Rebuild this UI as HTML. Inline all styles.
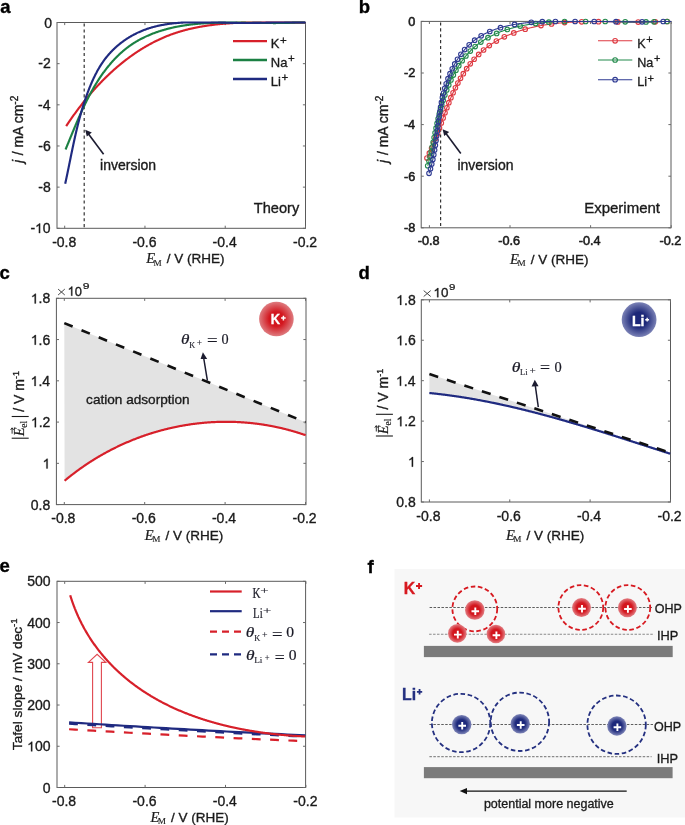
<!DOCTYPE html>
<html><head><meta charset="utf-8"><title>Figure</title>
<style>html,body{margin:0;padding:0;background:#fff;} svg{display:block;will-change:transform;}</style>
</head><body>
<svg width="685" height="825" viewBox="0 0 685 825"><text x="0.34" y="13.20" font-family="'Liberation Sans', sans-serif" font-size="18.5" font-weight="bold" font-style="normal" fill="#000" stroke="#000" stroke-width="0.35">a</text>
<text x="358.71" y="13.20" font-family="'Liberation Sans', sans-serif" font-size="18.5" font-weight="bold" font-style="normal" fill="#000" stroke="#000" stroke-width="0.35">b</text>
<text x="-0.59" y="279.20" font-family="'Liberation Sans', sans-serif" font-size="18.5" font-weight="bold" font-style="normal" fill="#000" stroke="#000" stroke-width="0.35">c</text>
<text x="358.55" y="279.40" font-family="'Liberation Sans', sans-serif" font-size="18.5" font-weight="bold" font-style="normal" fill="#000" stroke="#000" stroke-width="0.35">d</text>
<text x="-0.59" y="572.30" font-family="'Liberation Sans', sans-serif" font-size="18.5" font-weight="bold" font-style="normal" fill="#000" stroke="#000" stroke-width="0.35">e</text>
<text x="367.49" y="573.00" font-family="'Liberation Sans', sans-serif" font-size="18.5" font-weight="bold" font-style="normal" fill="#000" stroke="#000" stroke-width="0.35">f</text>
<rect x="57" y="22.5" width="248.5" height="205.8" fill="none" stroke="#5a5a5a" stroke-width="1"/>
<line x1="64.7" y1="228.3" x2="64.7" y2="225.70000000000002" stroke="#6a6a6a" stroke-width="1"/>
<line x1="64.7" y1="22.5" x2="64.7" y2="25.1" stroke="#6a6a6a" stroke-width="1"/>
<line x1="144.96000000000004" y1="228.3" x2="144.96000000000004" y2="225.70000000000002" stroke="#6a6a6a" stroke-width="1"/>
<line x1="144.96000000000004" y1="22.5" x2="144.96000000000004" y2="25.1" stroke="#6a6a6a" stroke-width="1"/>
<line x1="225.22000000000003" y1="228.3" x2="225.22000000000003" y2="225.70000000000002" stroke="#6a6a6a" stroke-width="1"/>
<line x1="225.22000000000003" y1="22.5" x2="225.22000000000003" y2="25.1" stroke="#6a6a6a" stroke-width="1"/>
<line x1="305.48" y1="228.3" x2="305.48" y2="225.70000000000002" stroke="#6a6a6a" stroke-width="1"/>
<line x1="305.48" y1="22.5" x2="305.48" y2="25.1" stroke="#6a6a6a" stroke-width="1"/>
<line x1="57" y1="22.5" x2="59.6" y2="22.5" stroke="#6a6a6a" stroke-width="1"/>
<line x1="305.5" y1="22.5" x2="302.9" y2="22.5" stroke="#6a6a6a" stroke-width="1"/>
<line x1="57" y1="63.66" x2="59.6" y2="63.66" stroke="#6a6a6a" stroke-width="1"/>
<line x1="305.5" y1="63.66" x2="302.9" y2="63.66" stroke="#6a6a6a" stroke-width="1"/>
<line x1="57" y1="104.82" x2="59.6" y2="104.82" stroke="#6a6a6a" stroke-width="1"/>
<line x1="305.5" y1="104.82" x2="302.9" y2="104.82" stroke="#6a6a6a" stroke-width="1"/>
<line x1="57" y1="145.98" x2="59.6" y2="145.98" stroke="#6a6a6a" stroke-width="1"/>
<line x1="305.5" y1="145.98" x2="302.9" y2="145.98" stroke="#6a6a6a" stroke-width="1"/>
<line x1="57" y1="187.14" x2="59.6" y2="187.14" stroke="#6a6a6a" stroke-width="1"/>
<line x1="305.5" y1="187.14" x2="302.9" y2="187.14" stroke="#6a6a6a" stroke-width="1"/>
<line x1="57" y1="228.29999999999998" x2="59.6" y2="228.29999999999998" stroke="#6a6a6a" stroke-width="1"/>
<line x1="305.5" y1="228.29999999999998" x2="302.9" y2="228.29999999999998" stroke="#6a6a6a" stroke-width="1"/>
<text x="44.15" y="27.60" font-family="'Liberation Sans', sans-serif" font-size="14" font-weight="normal" font-style="normal" fill="#1a1a1a" stroke="#1a1a1a" stroke-width="0.35">0</text>
<text x="38.35" y="68.46" font-family="'Liberation Sans', sans-serif" font-size="14" font-weight="normal" font-style="normal" fill="#1a1a1a" stroke="#1a1a1a" stroke-width="0.35">-2</text>
<text x="38.04" y="109.62" font-family="'Liberation Sans', sans-serif" font-size="14" font-weight="normal" font-style="normal" fill="#1a1a1a" stroke="#1a1a1a" stroke-width="0.35">-4</text>
<text x="38.22" y="150.78" font-family="'Liberation Sans', sans-serif" font-size="14" font-weight="normal" font-style="normal" fill="#1a1a1a" stroke="#1a1a1a" stroke-width="0.35">-6</text>
<text x="38.22" y="191.94" font-family="'Liberation Sans', sans-serif" font-size="14" font-weight="normal" font-style="normal" fill="#1a1a1a" stroke="#1a1a1a" stroke-width="0.35">-8</text>
<g transform="translate(30.41,233.10)"><text x="0.00" y="0" font-family="'Liberation Sans', sans-serif" font-size="14" fill="#1a1a1a" stroke="#1a1a1a" stroke-width="0.35">-</text><path transform="translate(4.66,0) scale(0.00684,-0.00684)" d="M740,0 L560,0 L560,1130 C520,1090 460,1050 390,1010 C320,970 260,940 210,920 L210,1090 C300,1130 380,1180 450,1240 C520,1300 570,1360 600,1409 L740,1409 Z" fill="#1a1a1a" stroke="#1a1a1a" stroke-width="43.9"/><text x="12.45" y="0" font-family="'Liberation Sans', sans-serif" font-size="14" fill="#1a1a1a" stroke="#1a1a1a" stroke-width="0.35">0</text></g>
<text x="52.14" y="246.50" font-family="'Liberation Sans', sans-serif" font-size="14" font-weight="normal" font-style="normal" fill="#1a1a1a" stroke="#1a1a1a" stroke-width="0.35">-0.8</text>
<text x="132.40" y="246.50" font-family="'Liberation Sans', sans-serif" font-size="14" font-weight="normal" font-style="normal" fill="#1a1a1a" stroke="#1a1a1a" stroke-width="0.35">-0.6</text>
<text x="212.57" y="246.50" font-family="'Liberation Sans', sans-serif" font-size="14" font-weight="normal" font-style="normal" fill="#1a1a1a" stroke="#1a1a1a" stroke-width="0.35">-0.4</text>
<text x="292.98" y="246.50" font-family="'Liberation Sans', sans-serif" font-size="14" font-weight="normal" font-style="normal" fill="#1a1a1a" stroke="#1a1a1a" stroke-width="0.35">-0.2</text>
<text x="146.19" y="263.40" font-family="'Liberation Serif', serif" font-size="14.5" font-weight="normal" font-style="italic" fill="#1a1a1a" stroke="#1a1a1a" stroke-width="0.2">E</text>
<text x="153.56" y="265.50" font-family="'Liberation Serif', serif" font-size="9.2" font-weight="normal" font-style="normal" fill="#1a1a1a" stroke="#1a1a1a" stroke-width="0.13142857142857142">M</text>
<text x="166.80" y="263.40" font-family="'Liberation Sans', sans-serif" font-size="13.5" font-weight="normal" font-style="normal" fill="#1a1a1a" stroke="#1a1a1a" stroke-width="0.33749999999999997">/ V (RHE)</text>
<text transform="translate(23.4,129.4) rotate(-90)" font-family="'Liberation Sans', sans-serif" font-size="14" text-anchor="middle" fill="#1a1a1a" stroke="#1a1a1a" stroke-width="0.35"><tspan font-style="italic">j</tspan><tspan dx="0.8"> / mA cm</tspan><tspan font-size="10" dy="-5">-2</tspan></text>
<line x1="84.2" y1="23.5" x2="84.2" y2="228.3" stroke="#333" stroke-width="1.2" stroke-dasharray="3.1,2.8"/>
<path d="M66.17,126.15 L66.50,125.65 L66.84,125.15 L67.17,124.65 L67.50,124.15 L67.84,123.64 L68.17,123.14 L68.51,122.64 L68.84,122.15 L69.18,121.65 L69.52,121.15 L69.86,120.65 L70.20,120.16 L70.54,119.66 L70.89,119.17 L71.23,118.67 L71.57,118.18 L71.92,117.68 L72.27,117.19 L72.61,116.70 L72.96,116.21 L73.31,115.72 L73.66,115.23 L74.01,114.74 L74.36,114.25 L74.71,113.76 L75.07,113.27 L75.42,112.79 L75.78,112.30 L76.13,111.81 L76.49,111.33 L76.85,110.84 L77.21,110.36 L77.57,109.88 L77.93,109.40 L78.29,108.91 L78.65,108.43 L79.02,107.95 L79.38,107.47 L79.75,107.00 L80.11,106.52 L80.48,106.04 L80.85,105.56 L81.22,105.09 L81.59,104.61 L81.96,104.14 L82.33,103.67 L82.71,103.19 L83.08,102.72 L83.45,102.25 L83.83,101.78 L84.21,101.31 L84.59,100.84 L84.96,100.37 L85.34,99.91 L85.72,99.44 L86.11,98.97 L86.49,98.51 L86.87,98.04 L87.26,97.58 L87.64,97.12 L88.03,96.66 L88.42,96.20 L88.80,95.74 L89.19,95.28 L89.58,94.82 L89.98,94.36 L90.37,93.90 L90.76,93.45 L91.15,92.99 L91.55,92.54 L91.95,92.08 L92.34,91.63 L92.74,91.18 L93.14,90.73 L93.54,90.28 L93.94,89.83 L94.34,89.38 L94.75,88.93 L95.15,88.49 L95.56,88.04 L95.96,87.60 L96.37,87.15 L96.78,86.71 L97.19,86.27 L97.60,85.83 L98.01,85.39 L98.42,84.95 L98.83,84.51 L99.25,84.07 L99.66,83.64 L100.08,83.20 L100.50,82.77 L100.91,82.33 L101.33,81.90 L101.75,81.47 L102.17,81.04 L102.60,80.61 L103.02,80.18 L103.44,79.75 L103.87,79.33 L104.30,78.90 L104.72,78.48 L105.15,78.06 L105.58,77.63 L106.01,77.21 L106.44,76.79 L106.88,76.37 L107.31,75.96 L107.74,75.54 L108.18,75.12 L108.62,74.71 L109.05,74.29 L109.49,73.88 L109.93,73.47 L110.37,73.06 L110.82,72.65 L111.26,72.24 L111.70,71.84 L112.15,71.43 L112.59,71.03 L113.04,70.62 L113.49,70.22 L113.94,69.82 L114.39,69.42 L114.84,69.02 L115.29,68.63 L115.75,68.23 L116.20,67.83 L116.66,67.44 L117.11,67.05 L117.57,66.66 L118.03,66.27 L118.49,65.88 L118.95,65.49 L119.41,65.11 L119.88,64.72 L120.34,64.34 L120.81,63.96 L121.27,63.57 L121.74,63.20 L122.21,62.82 L122.68,62.44 L123.15,62.06 L123.62,61.69 L124.10,61.32 L124.57,60.95 L125.04,60.58 L125.52,60.21 L126.00,59.84 L126.48,59.47 L126.96,59.11 L127.44,58.75 L127.92,58.39 L128.40,58.03 L128.88,57.67 L129.37,57.31 L129.85,56.95 L130.34,56.60 L130.83,56.25 L131.32,55.90 L131.81,55.55 L132.30,55.20 L132.79,54.85 L133.29,54.51 L133.78,54.16 L134.28,53.82 L134.77,53.48 L135.27,53.14 L135.77,52.80 L136.27,52.47 L136.77,52.13 L137.27,51.80 L137.78,51.47 L138.28,51.14 L138.79,50.81 L139.29,50.49 L139.80,50.16 L140.31,49.84 L140.82,49.52 L141.33,49.20 L141.84,48.88 L142.35,48.57 L142.87,48.25 L143.38,47.94 L143.90,47.63 L144.41,47.32 L144.93,47.01 L145.45,46.71 L145.97,46.41 L146.49,46.10 L147.01,45.80 L147.54,45.51 L148.06,45.21 L148.59,44.92 L149.11,44.62 L149.64,44.33 L150.17,44.04 L150.70,43.76 L151.23,43.47 L151.76,43.19 L152.29,42.91 L152.83,42.63 L153.36,42.35 L153.90,42.08 L154.43,41.80 L154.97,41.53 L155.51,41.26 L156.05,40.99 L156.59,40.73 L157.13,40.47 L157.67,40.20 L158.22,39.95 L158.76,39.69 L159.31,39.43 L159.85,39.18 L160.40,38.93 L160.95,38.68 L161.50,38.43 L162.05,38.19 L162.60,37.95 L163.15,37.71 L163.71,37.47 L164.26,37.23 L164.81,37.00 L165.37,36.76 L165.93,36.53 L166.48,36.31 L167.04,36.08 L167.60,35.86 L168.16,35.64 L168.72,35.42 L169.29,35.20 L169.85,34.99 L170.41,34.78 L170.98,34.57 L171.54,34.36 L172.11,34.15 L172.67,33.95 L173.24,33.75 L173.81,33.55 L174.38,33.36 L174.95,33.16 L175.52,32.97 L176.09,32.78 L176.67,32.60 L177.24,32.41 L177.81,32.23 L178.39,32.05 L178.96,31.87 L179.54,31.70 L180.12,31.52 L180.69,31.35 L181.27,31.18 L181.85,31.01 L182.43,30.85 L183.01,30.69 L183.59,30.52 L184.17,30.37 L184.75,30.21 L185.33,30.05 L185.92,29.90 L186.50,29.75 L187.08,29.60 L187.67,29.46 L188.25,29.31 L188.84,29.17 L189.42,29.03 L190.01,28.89 L190.59,28.75 L191.18,28.62 L191.77,28.48 L192.36,28.35 L192.94,28.22 L193.53,28.09 L194.12,27.97 L194.71,27.85 L195.30,27.72 L195.89,27.60 L196.48,27.48 L197.07,27.37 L197.66,27.25 L198.25,27.14 L198.85,27.03 L199.44,26.92 L200.03,26.81 L200.62,26.70 L201.22,26.60 L201.81,26.50 L202.40,26.39 L203.00,26.29 L203.59,26.20 L204.18,26.10 L204.78,26.01 L205.37,25.91 L205.97,25.82 L206.56,25.73 L207.16,25.64 L207.76,25.55 L208.35,25.47 L208.95,25.38 L209.54,25.30 L210.14,25.22 L210.74,25.14 L211.34,25.06 L211.93,24.98 L212.53,24.91 L213.13,24.83 L213.73,24.76 L214.32,24.69 L214.92,24.62 L215.52,24.55 L216.12,24.48 L216.72,24.42 L217.32,24.35 L217.91,24.29 L218.51,24.23 L219.11,24.17 L219.71,24.11 L220.31,24.05 L220.91,23.99 L221.51,23.94 L222.11,23.88 L222.71,23.83 L223.31,23.78 L223.91,23.72 L224.51,23.67 L225.11,23.63 L225.71,23.58 L226.31,23.53 L226.91,23.49 L227.51,23.44 L228.11,23.40 L228.71,23.36 L229.31,23.31 L229.91,23.27 L230.52,23.24 L231.12,23.20 L231.72,23.16 L232.32,23.12 L232.92,23.09 L233.52,23.05 L234.12,23.02 L234.72,22.99 L235.32,22.96 L235.93,22.93 L236.53,22.90 L237.13,22.87 L237.73,22.84 L238.33,22.82 L238.93,22.79 L239.54,22.76 L240.14,22.74 L240.74,22.72 L241.34,22.69 L241.94,22.67 L242.54,22.65 L243.15,22.63 L243.75,22.61 L244.35,22.59 L244.95,22.58 L245.55,22.56 L246.16,22.54 L246.76,22.53 L247.36,22.51 L247.96,22.50 L248.56,22.50 L249.17,22.50 L249.77,22.50 L250.37,22.50 L250.97,22.50 L251.58,22.50 L252.18,22.50 L252.78,22.50 L253.38,22.50 L253.98,22.50 L254.59,22.50 L255.19,22.50 L255.79,22.50 L256.39,22.50 L256.99,22.50 L257.60,22.50 L258.20,22.50 L258.80,22.50 L259.40,22.50 L260.01,22.50 L260.61,22.50 L261.21,22.50 L261.81,22.50 L262.41,22.50 L263.02,22.50 L263.62,22.50 L264.22,22.50 L264.82,22.50 L265.43,22.50 L266.03,22.50 L266.63,22.50 L267.23,22.50 L267.83,22.50 L268.44,22.50 L269.04,22.50 L269.64,22.50 L270.24,22.50 L270.85,22.50 L271.45,22.50 L272.05,22.50 L272.65,22.50 L273.25,22.50 L273.86,22.50 L274.46,22.50 L275.06,22.50 L275.66,22.50 L276.26,22.50 L276.87,22.50 L277.47,22.50 L278.07,22.50 L278.67,22.50 L279.28,22.50 L279.88,22.50 L280.48,22.50 L281.08,22.50 L281.68,22.50 L282.29,22.50 L282.89,22.50 L283.49,22.50 L284.09,22.50 L284.70,22.50 L285.30,22.51 L285.90,22.51 L286.50,22.52 L287.10,22.53 L287.71,22.53 L288.31,22.54 L288.91,22.55 L289.51,22.55 L290.11,22.56 L290.72,22.57 L291.32,22.57 L291.92,22.58 L292.52,22.59 L293.13,22.59 L293.73,22.60 L294.33,22.60 L294.93,22.61 L295.53,22.61 L296.14,22.62 L296.74,22.62 L297.34,22.63 L297.94,22.63 L298.55,22.63 L299.15,22.64 L299.75,22.64 L300.35,22.64 L300.95,22.65 L301.56,22.65 L302.16,22.65 L302.76,22.65 L303.36,22.65 L303.96,22.65 L304.57,22.65 L305.17,22.65" fill="none" stroke="#d7202a" stroke-width="2.15" stroke-linecap="butt" stroke-linejoin="round"/>
<path d="M65.56,149.47 L65.79,148.91 L66.02,148.36 L66.25,147.80 L66.48,147.25 L66.71,146.69 L66.94,146.13 L67.17,145.58 L67.40,145.02 L67.63,144.46 L67.86,143.91 L68.09,143.35 L68.31,142.79 L68.54,142.24 L68.77,141.68 L69.00,141.12 L69.23,140.57 L69.45,140.01 L69.68,139.45 L69.91,138.89 L70.14,138.34 L70.37,137.78 L70.59,137.22 L70.82,136.67 L71.05,136.11 L71.28,135.55 L71.51,135.00 L71.74,134.44 L71.97,133.88 L72.19,133.33 L72.42,132.77 L72.65,132.21 L72.88,131.66 L73.11,131.10 L73.34,130.55 L73.57,129.99 L73.80,129.43 L74.03,128.88 L74.27,128.32 L74.50,127.77 L74.73,127.21 L74.96,126.66 L75.20,126.10 L75.43,125.55 L75.66,124.99 L75.90,124.44 L76.13,123.88 L76.37,123.33 L76.60,122.78 L76.84,122.22 L77.07,121.67 L77.31,121.12 L77.55,120.56 L77.79,120.01 L78.03,119.46 L78.27,118.91 L78.51,118.35 L78.75,117.80 L78.99,117.25 L79.23,116.70 L79.47,116.15 L79.72,115.60 L79.96,115.05 L80.21,114.50 L80.45,113.95 L80.70,113.40 L80.94,112.85 L81.19,112.31 L81.44,111.76 L81.69,111.21 L81.94,110.66 L82.19,110.12 L82.45,109.57 L82.70,109.02 L82.95,108.48 L83.21,107.93 L83.46,107.39 L83.72,106.84 L83.98,106.30 L84.24,105.76 L84.50,105.21 L84.76,104.67 L85.02,104.13 L85.28,103.59 L85.55,103.05 L85.81,102.51 L86.08,101.97 L86.34,101.43 L86.61,100.89 L86.88,100.35 L87.15,99.81 L87.42,99.28 L87.70,98.74 L87.97,98.20 L88.25,97.67 L88.52,97.13 L88.80,96.60 L89.08,96.07 L89.36,95.54 L89.64,95.00 L89.92,94.47 L90.21,93.94 L90.49,93.41 L90.78,92.88 L91.07,92.35 L91.36,91.83 L91.65,91.30 L91.94,90.77 L92.24,90.25 L92.53,89.73 L92.83,89.20 L93.13,88.68 L93.43,88.16 L93.73,87.64 L94.03,87.12 L94.33,86.60 L94.64,86.08 L94.95,85.56 L95.26,85.04 L95.57,84.53 L95.88,84.01 L96.19,83.50 L96.51,82.99 L96.83,82.48 L97.14,81.97 L97.46,81.46 L97.79,80.95 L98.11,80.44 L98.44,79.94 L98.76,79.43 L99.09,78.93 L99.42,78.42 L99.76,77.92 L100.09,77.42 L100.43,76.92 L100.76,76.42 L101.10,75.93 L101.45,75.43 L101.79,74.94 L102.13,74.45 L102.48,73.95 L102.83,73.46 L103.18,72.97 L103.53,72.49 L103.89,72.00 L104.25,71.52 L104.60,71.03 L104.97,70.55 L105.33,70.07 L105.69,69.59 L106.06,69.12 L106.43,68.64 L106.80,68.17 L107.17,67.69 L107.55,67.22 L107.92,66.75 L108.30,66.29 L108.68,65.82 L109.07,65.36 L109.45,64.89 L109.84,64.43 L110.23,63.97 L110.62,63.52 L111.01,63.06 L111.41,62.61 L111.80,62.16 L112.20,61.71 L112.61,61.26 L113.01,60.81 L113.42,60.37 L113.83,59.93 L114.24,59.49 L114.65,59.05 L115.06,58.61 L115.48,58.18 L115.90,57.75 L116.32,57.32 L116.75,56.89 L117.17,56.47 L117.60,56.04 L118.03,55.62 L118.47,55.21 L118.90,54.79 L119.34,54.38 L119.78,53.97 L120.22,53.56 L120.67,53.15 L121.11,52.75 L121.56,52.35 L122.01,51.95 L122.47,51.56 L122.92,51.16 L123.38,50.77 L123.84,50.39 L124.30,50.00 L124.77,49.62 L125.24,49.24 L125.71,48.87 L126.18,48.49 L126.65,48.12 L127.13,47.75 L127.61,47.39 L128.09,47.03 L128.57,46.67 L129.06,46.32 L129.55,45.97 L130.04,45.62 L130.53,45.27 L131.03,44.93 L131.53,44.59 L132.03,44.26 L132.53,43.92 L133.03,43.59 L133.54,43.27 L134.04,42.95 L134.55,42.63 L135.07,42.31 L135.58,42.00 L136.10,41.69 L136.61,41.38 L137.13,41.08 L137.65,40.78 L138.18,40.48 L138.70,40.18 L139.23,39.89 L139.76,39.60 L140.29,39.32 L140.82,39.04 L141.35,38.76 L141.89,38.48 L142.42,38.21 L142.96,37.94 L143.50,37.67 L144.04,37.41 L144.58,37.15 L145.13,36.89 L145.67,36.63 L146.22,36.38 L146.77,36.13 L147.32,35.88 L147.87,35.64 L148.42,35.40 L148.97,35.16 L149.52,34.93 L150.08,34.70 L150.64,34.47 L151.19,34.24 L151.75,34.02 L152.31,33.79 L152.87,33.58 L153.43,33.36 L154.00,33.15 L154.56,32.94 L155.13,32.73 L155.69,32.52 L156.26,32.32 L156.83,32.12 L157.39,31.93 L157.96,31.73 L158.53,31.54 L159.11,31.35 L159.68,31.16 L160.25,30.98 L160.82,30.80 L161.40,30.62 L161.97,30.44 L162.55,30.27 L163.13,30.10 L163.70,29.93 L164.28,29.76 L164.86,29.60 L165.44,29.44 L166.02,29.28 L166.60,29.12 L167.18,28.96 L167.77,28.81 L168.35,28.66 L168.93,28.51 L169.52,28.37 L170.10,28.23 L170.69,28.09 L171.27,27.95 L171.86,27.81 L172.45,27.68 L173.03,27.55 L173.62,27.42 L174.21,27.29 L174.80,27.16 L175.39,27.04 L175.98,26.92 L176.57,26.80 L177.16,26.69 L177.75,26.57 L178.34,26.46 L178.93,26.35 L179.52,26.24 L180.11,26.13 L180.71,26.03 L181.30,25.93 L181.89,25.83 L182.49,25.73 L183.08,25.63 L183.68,25.54 L184.27,25.44 L184.86,25.35 L185.46,25.26 L186.06,25.18 L186.65,25.09 L187.25,25.01 L187.84,24.93 L188.44,24.85 L189.04,24.77 L189.63,24.69 L190.23,24.62 L190.83,24.54 L191.42,24.47 L192.02,24.40 L192.62,24.33 L193.22,24.27 L193.82,24.20 L194.42,24.14 L195.01,24.08 L195.61,24.02 L196.21,23.96 L196.81,23.90 L197.41,23.84 L198.01,23.79 L198.61,23.74 L199.21,23.69 L199.81,23.64 L200.41,23.59 L201.01,23.54 L201.61,23.49 L202.21,23.45 L202.81,23.41 L203.41,23.36 L204.01,23.32 L204.61,23.28 L205.21,23.25 L205.81,23.21 L206.41,23.17 L207.01,23.14 L207.61,23.10 L208.21,23.07 L208.82,23.04 L209.42,23.01 L210.02,22.98 L210.62,22.96 L211.22,22.93 L211.82,22.90 L212.42,22.88 L213.02,22.86 L213.62,22.83 L214.23,22.81 L214.83,22.79 L215.43,22.77 L216.03,22.75 L216.63,22.74 L217.23,22.72 L217.84,22.70 L218.44,22.69 L219.04,22.68 L219.64,22.66 L220.24,22.65 L220.84,22.64 L221.45,22.63 L222.05,22.62 L222.65,22.61 L223.25,22.60 L223.85,22.59 L224.45,22.59 L225.06,22.58 L225.66,22.58 L226.26,22.57 L226.86,22.57 L227.46,22.56 L228.06,22.56 L228.67,22.56 L229.27,22.56 L229.87,22.56 L230.47,22.56 L231.07,22.56 L231.68,22.56 L232.28,22.56 L232.88,22.56 L233.48,22.56 L234.08,22.57 L234.68,22.57 L235.29,22.57 L235.89,22.58 L236.49,22.58 L237.09,22.59 L237.69,22.59 L238.30,22.60 L238.90,22.60 L239.50,22.61 L240.10,22.62 L240.70,22.62 L241.30,22.63 L241.91,22.64 L242.51,22.65 L243.11,22.66 L243.71,22.66 L244.31,22.67 L244.91,22.68 L245.52,22.69 L246.12,22.70 L246.72,22.71 L247.32,22.72 L247.92,22.73 L248.52,22.74 L249.13,22.75 L249.73,22.76 L250.33,22.77 L250.93,22.78 L251.53,22.79 L252.13,22.80 L252.74,22.81 L253.34,22.82 L253.94,22.83 L254.54,22.84 L255.14,22.85 L255.75,22.86 L256.35,22.87 L256.95,22.88 L257.55,22.89 L258.15,22.90 L258.75,22.91 L259.36,22.92 L259.96,22.93 L260.56,22.93 L261.16,22.94 L261.76,22.95 L262.36,22.96 L262.97,22.97 L263.57,22.98 L264.17,22.98 L264.77,22.99 L265.37,23.00 L265.97,23.00 L266.58,23.01 L267.18,23.01 L267.78,23.02 L268.38,23.02 L268.98,23.03 L269.59,23.03 L270.19,23.04 L270.79,23.04 L271.39,23.04 L271.99,23.04 L272.59,23.05 L273.20,23.05 L273.80,23.05 L274.40,23.05 L275.00,23.05 L275.60,23.05 L276.20,23.04 L276.81,23.04 L277.41,23.04 L278.01,23.03 L278.61,23.03 L279.21,23.02 L279.82,23.02 L280.42,23.01 L281.02,23.00 L281.62,23.00 L282.22,22.99 L282.82,22.98 L283.43,22.97 L284.03,22.95 L284.63,22.94 L285.23,22.93 L285.83,22.91 L286.43,22.90 L287.04,22.88 L287.64,22.87 L288.24,22.85 L288.84,22.83 L289.44,22.81 L290.04,22.79 L290.64,22.76 L291.25,22.74 L291.85,22.72 L292.45,22.69 L293.05,22.66 L293.65,22.64 L294.25,22.61 L294.85,22.58 L295.45,22.54 L296.05,22.51 L296.66,22.50 L297.26,22.50 L297.86,22.50 L298.46,22.50 L299.06,22.50 L299.67,22.50 L300.27,22.50 L300.87,22.50 L301.47,22.50 L302.07,22.50 L302.67,22.50 L303.28,22.50 L303.88,22.50 L304.48,22.50 L305.08,22.50" fill="none" stroke="#1b8043" stroke-width="2.15" stroke-linecap="butt" stroke-linejoin="round"/>
<path d="M65.17,183.85 L65.30,183.26 L65.43,182.68 L65.56,182.09 L65.69,181.50 L65.82,180.91 L65.94,180.32 L66.07,179.73 L66.19,179.15 L66.32,178.56 L66.45,177.97 L66.57,177.38 L66.69,176.79 L66.82,176.20 L66.94,175.61 L67.07,175.02 L67.19,174.43 L67.31,173.85 L67.43,173.26 L67.56,172.67 L67.68,172.08 L67.80,171.49 L67.92,170.90 L68.04,170.31 L68.16,169.72 L68.29,169.13 L68.41,168.54 L68.53,167.95 L68.65,167.36 L68.77,166.77 L68.89,166.18 L69.01,165.59 L69.13,165.00 L69.25,164.41 L69.37,163.82 L69.49,163.23 L69.61,162.64 L69.73,162.05 L69.85,161.46 L69.97,160.87 L70.09,160.28 L70.21,159.69 L70.33,159.10 L70.45,158.51 L70.57,157.92 L70.69,157.33 L70.81,156.74 L70.93,156.15 L71.05,155.56 L71.17,154.98 L71.29,154.39 L71.41,153.80 L71.53,153.21 L71.65,152.62 L71.78,152.03 L71.90,151.44 L72.02,150.85 L72.14,150.26 L72.26,149.67 L72.39,149.08 L72.51,148.49 L72.63,147.90 L72.76,147.31 L72.88,146.72 L73.01,146.14 L73.13,145.55 L73.26,144.96 L73.38,144.37 L73.51,143.78 L73.63,143.19 L73.76,142.60 L73.89,142.02 L74.01,141.43 L74.14,140.84 L74.27,140.25 L74.40,139.66 L74.53,139.08 L74.66,138.49 L74.79,137.90 L74.92,137.31 L75.05,136.73 L75.18,136.14 L75.32,135.55 L75.45,134.96 L75.58,134.38 L75.72,133.79 L75.85,133.20 L75.99,132.62 L76.13,132.03 L76.26,131.45 L76.40,130.86 L76.54,130.27 L76.68,129.69 L76.82,129.10 L76.96,128.52 L77.10,127.93 L77.24,127.35 L77.39,126.76 L77.53,126.18 L77.67,125.59 L77.82,125.01 L77.96,124.43 L78.11,123.84 L78.26,123.26 L78.41,122.68 L78.56,122.09 L78.71,121.51 L78.86,120.93 L79.01,120.34 L79.16,119.76 L79.32,119.18 L79.47,118.60 L79.63,118.02 L79.78,117.44 L79.94,116.86 L80.10,116.27 L80.26,115.69 L80.42,115.11 L80.58,114.53 L80.74,113.95 L80.91,113.38 L81.07,112.80 L81.24,112.22 L81.41,111.64 L81.57,111.06 L81.74,110.48 L81.91,109.91 L82.08,109.33 L82.26,108.75 L82.43,108.18 L82.61,107.60 L82.78,107.03 L82.96,106.45 L83.14,105.88 L83.32,105.30 L83.50,104.73 L83.68,104.15 L83.86,103.58 L84.05,103.01 L84.23,102.43 L84.42,101.86 L84.61,101.29 L84.80,100.72 L84.99,100.15 L85.18,99.58 L85.38,99.01 L85.57,98.44 L85.77,97.87 L85.96,97.30 L86.16,96.73 L86.36,96.17 L86.57,95.60 L86.77,95.03 L86.97,94.47 L87.18,93.90 L87.39,93.34 L87.60,92.77 L87.81,92.21 L88.02,91.65 L88.23,91.08 L88.45,90.52 L88.67,89.96 L88.88,89.40 L89.10,88.84 L89.33,88.28 L89.55,87.72 L89.77,87.16 L90.00,86.60 L90.23,86.05 L90.46,85.49 L90.69,84.93 L90.92,84.38 L91.15,83.82 L91.39,83.27 L91.63,82.72 L91.87,82.17 L92.11,81.61 L92.36,81.06 L92.60,80.52 L92.85,79.97 L93.10,79.42 L93.35,78.87 L93.61,78.33 L93.87,77.78 L94.13,77.24 L94.39,76.70 L94.65,76.16 L94.92,75.62 L95.19,75.08 L95.46,74.54 L95.73,74.01 L96.01,73.47 L96.28,72.94 L96.57,72.41 L96.85,71.87 L97.14,71.34 L97.42,70.82 L97.72,70.29 L98.01,69.77 L98.31,69.24 L98.61,68.72 L98.91,68.20 L99.22,67.68 L99.53,67.17 L99.84,66.65 L100.15,66.14 L100.47,65.63 L100.79,65.12 L101.12,64.61 L101.44,64.11 L101.77,63.60 L102.11,63.10 L102.44,62.60 L102.79,62.11 L103.13,61.61 L103.48,61.12 L103.83,60.63 L104.18,60.14 L104.54,59.66 L104.90,59.18 L105.26,58.70 L105.63,58.22 L106.00,57.75 L106.37,57.28 L106.75,56.81 L107.13,56.34 L107.52,55.88 L107.90,55.42 L108.30,54.96 L108.69,54.50 L109.09,54.05 L109.49,53.60 L109.89,53.16 L110.30,52.71 L110.71,52.27 L111.12,51.83 L111.54,51.40 L111.96,50.97 L112.38,50.54 L112.80,50.11 L113.23,49.69 L113.66,49.27 L114.10,48.85 L114.53,48.44 L114.97,48.03 L115.42,47.62 L115.86,47.21 L116.31,46.81 L116.76,46.41 L117.21,46.02 L117.67,45.63 L118.13,45.24 L118.59,44.85 L119.05,44.47 L119.52,44.09 L119.99,43.71 L120.46,43.34 L120.94,42.97 L121.42,42.60 L121.90,42.24 L122.38,41.88 L122.86,41.52 L123.35,41.17 L123.84,40.82 L124.33,40.47 L124.82,40.12 L125.32,39.78 L125.82,39.45 L126.32,39.11 L126.82,38.78 L127.33,38.46 L127.84,38.13 L128.35,37.81 L128.86,37.50 L129.37,37.18 L129.89,36.87 L130.40,36.57 L130.93,36.26 L131.45,35.96 L131.97,35.67 L132.50,35.38 L133.03,35.09 L133.56,34.80 L134.09,34.52 L134.62,34.24 L135.16,33.97 L135.69,33.69 L136.23,33.43 L136.77,33.16 L137.32,32.90 L137.86,32.64 L138.41,32.39 L138.95,32.14 L139.50,31.90 L140.05,31.65 L140.61,31.41 L141.16,31.18 L141.72,30.95 L142.27,30.72 L142.83,30.50 L143.39,30.27 L143.95,30.06 L144.52,29.84 L145.08,29.64 L145.65,29.43 L146.21,29.23 L146.78,29.03 L147.35,28.83 L147.92,28.64 L148.49,28.46 L149.07,28.27 L149.64,28.09 L150.22,27.91 L150.79,27.74 L151.37,27.57 L151.95,27.40 L152.53,27.24 L153.11,27.08 L153.69,26.92 L154.27,26.77 L154.85,26.62 L155.44,26.47 L156.02,26.32 L156.61,26.18 L157.19,26.05 L157.78,25.91 L158.36,25.78 L158.95,25.65 L159.54,25.52 L160.13,25.40 L160.72,25.28 L161.31,25.16 L161.90,25.05 L162.49,24.94 L163.08,24.83 L163.68,24.72 L164.27,24.62 L164.86,24.52 L165.46,24.42 L166.05,24.32 L166.65,24.23 L167.24,24.14 L167.84,24.05 L168.43,23.97 L169.03,23.88 L169.63,23.80 L170.22,23.72 L170.82,23.65 L171.42,23.58 L172.01,23.50 L172.61,23.43 L173.21,23.37 L173.81,23.30 L174.41,23.24 L175.01,23.18 L175.61,23.12 L176.20,23.07 L176.80,23.01 L177.40,22.96 L178.00,22.91 L178.60,22.86 L179.20,22.81 L179.80,22.77 L180.40,22.73 L181.00,22.68 L181.60,22.64 L182.21,22.61 L182.81,22.57 L183.41,22.54 L184.01,22.50 L184.61,22.50 L185.21,22.50 L185.81,22.50 L186.42,22.50 L187.02,22.50 L187.62,22.50 L188.22,22.50 L188.82,22.50 L189.43,22.50 L190.03,22.50 L190.63,22.50 L191.23,22.50 L191.83,22.50 L192.43,22.50 L193.04,22.50 L193.64,22.50 L194.24,22.50 L194.84,22.50 L195.44,22.50 L196.05,22.50 L196.65,22.50 L197.25,22.50 L197.85,22.50 L198.45,22.50 L199.06,22.50 L199.66,22.50 L200.26,22.50 L200.86,22.50 L201.46,22.50 L202.07,22.50 L202.67,22.50 L203.27,22.50 L203.87,22.50 L204.47,22.50 L205.07,22.50 L205.68,22.50 L206.28,22.50 L206.88,22.50 L207.48,22.50 L208.08,22.50 L208.69,22.50 L209.29,22.50 L209.89,22.50 L210.49,22.50 L211.09,22.50 L211.70,22.50 L212.30,22.50 L212.90,22.50 L213.50,22.50 L214.10,22.50 L214.70,22.50 L215.31,22.50 L215.91,22.50 L216.51,22.50 L217.11,22.50 L217.71,22.50 L218.32,22.50 L218.92,22.50 L219.52,22.51 L220.12,22.53 L220.72,22.55 L221.32,22.56 L221.93,22.58 L222.53,22.60 L223.13,22.62 L223.73,22.63 L224.33,22.65 L224.93,22.67 L225.54,22.68 L226.14,22.70 L226.74,22.72 L227.34,22.73 L227.94,22.75 L228.54,22.77 L229.15,22.78 L229.75,22.80 L230.35,22.81 L230.95,22.83 L231.55,22.84 L232.15,22.85 L232.76,22.87 L233.36,22.88 L233.96,22.89 L234.56,22.90 L235.16,22.91 L235.77,22.92 L236.37,22.93 L236.97,22.94 L237.57,22.95 L238.17,22.96 L238.77,22.97 L239.38,22.97 L239.98,22.98 L240.58,22.98 L241.18,22.99 L241.78,22.99 L242.39,22.99 L242.99,22.99 L243.59,23.00 L244.19,23.00 L244.79,23.00 L245.40,23.00 L246.00,22.99 L246.60,22.99 L247.20,22.99 L247.80,22.99 L248.40,22.98 L249.01,22.98 L249.61,22.97 L250.21,22.97 L250.81,22.96 L251.41,22.95 L252.02,22.95 L252.62,22.94 L253.22,22.93 L253.82,22.92 L254.42,22.91 L255.03,22.90 L255.63,22.89 L256.23,22.88 L256.83,22.87 L257.43,22.86 L258.03,22.85 L258.64,22.84 L259.24,22.83 L259.84,22.82 L260.44,22.80 L261.04,22.79 L261.64,22.78 L262.25,22.77 L262.85,22.75 L263.45,22.74 L264.05,22.73 L264.65,22.71 L265.26,22.70 L265.86,22.69 L266.46,22.67 L267.06,22.66 L267.66,22.65 L268.26,22.63 L268.87,22.62 L269.47,22.61 L270.07,22.59 L270.67,22.58 L271.27,22.57 L271.87,22.55 L272.48,22.54 L273.08,22.53 L273.68,22.51 L274.28,22.50 L274.88,22.50 L275.49,22.50 L276.09,22.50 L276.69,22.50 L277.29,22.50 L277.89,22.50 L278.49,22.50 L279.10,22.50 L279.70,22.50 L280.30,22.50 L280.90,22.50 L281.50,22.50 L282.11,22.50 L282.71,22.50 L283.31,22.50 L283.91,22.50 L284.51,22.50 L285.12,22.50 L285.72,22.50 L286.32,22.50 L286.92,22.50 L287.52,22.50 L288.13,22.50 L288.73,22.50 L289.33,22.50 L289.93,22.50 L290.53,22.50 L291.13,22.50 L291.74,22.50 L292.34,22.50 L292.94,22.50 L293.54,22.50 L294.14,22.50 L294.75,22.50 L295.35,22.50 L295.95,22.50 L296.55,22.50 L297.15,22.50 L297.76,22.50 L298.36,22.50 L298.96,22.50 L299.56,22.50 L300.16,22.50 L300.76,22.50 L301.37,22.50 L301.97,22.50 L302.57,22.50 L303.17,22.50 L303.77,22.50 L304.38,22.50 L304.98,22.50 L305.58,22.50" fill="none" stroke="#1f2a80" stroke-width="2.15" stroke-linecap="butt" stroke-linejoin="round"/>
<line x1="233" y1="41.2" x2="267" y2="41.2" stroke="#d7202a" stroke-width="2.3"/>
<text x="270.8" y="47.900000000000006" font-family="'Liberation Sans', sans-serif" font-size="13" fill="#1a1a1a" stroke="#1a1a1a" stroke-width="0.325">K<tspan font-size="11.5" dx="0.6" dy="-4.3">+</tspan></text>
<line x1="233" y1="60" x2="267" y2="60" stroke="#1b8043" stroke-width="2.3"/>
<text x="270.8" y="66.7" font-family="'Liberation Sans', sans-serif" font-size="13" fill="#1a1a1a" stroke="#1a1a1a" stroke-width="0.325">Na<tspan font-size="11.5" dx="0.6" dy="-4.3">+</tspan></text>
<line x1="233" y1="79" x2="267" y2="79" stroke="#1f2a80" stroke-width="2.3"/>
<text x="270.8" y="85.7" font-family="'Liberation Sans', sans-serif" font-size="13" fill="#1a1a1a" stroke="#1a1a1a" stroke-width="0.325">Li<tspan font-size="11.5" dx="0.6" dy="-4.3">+</tspan></text>
<line x1="103.6" y1="154.2" x2="88.5" y2="134" stroke="#1c1c30" stroke-width="1.6"/>
<path d="M85.2,129.8 L91.8,132.6 L86.8,136.6 Z" fill="#1c1c30"/>
<text x="100.06" y="170.30" font-family="'Liberation Sans', sans-serif" font-size="14" font-weight="normal" font-style="normal" fill="#1a1a1a" stroke="#1a1a1a" stroke-width="0.35">inversion</text>
<text x="253.82" y="212.70" font-family="'Liberation Sans', sans-serif" font-size="14.6" font-weight="normal" font-style="normal" fill="#1a1a1a" stroke="#1a1a1a" stroke-width="0.35">Theory</text>
<rect x="421.2" y="21.4" width="249.8" height="206.4" fill="none" stroke="#5a5a5a" stroke-width="1"/>
<line x1="429.4" y1="227.8" x2="429.4" y2="225.20000000000002" stroke="#6a6a6a" stroke-width="1"/>
<line x1="429.4" y1="21.4" x2="429.4" y2="24.0" stroke="#6a6a6a" stroke-width="1"/>
<line x1="510.0" y1="227.8" x2="510.0" y2="225.20000000000002" stroke="#6a6a6a" stroke-width="1"/>
<line x1="510.0" y1="21.4" x2="510.0" y2="24.0" stroke="#6a6a6a" stroke-width="1"/>
<line x1="590.6" y1="227.8" x2="590.6" y2="225.20000000000002" stroke="#6a6a6a" stroke-width="1"/>
<line x1="590.6" y1="21.4" x2="590.6" y2="24.0" stroke="#6a6a6a" stroke-width="1"/>
<line x1="671.2" y1="227.8" x2="671.2" y2="225.20000000000002" stroke="#6a6a6a" stroke-width="1"/>
<line x1="671.2" y1="21.4" x2="671.2" y2="24.0" stroke="#6a6a6a" stroke-width="1"/>
<line x1="421.2" y1="21.4" x2="423.8" y2="21.4" stroke="#6a6a6a" stroke-width="1"/>
<line x1="671" y1="21.4" x2="668.4" y2="21.4" stroke="#6a6a6a" stroke-width="1"/>
<line x1="421.2" y1="73.0" x2="423.8" y2="73.0" stroke="#6a6a6a" stroke-width="1"/>
<line x1="671" y1="73.0" x2="668.4" y2="73.0" stroke="#6a6a6a" stroke-width="1"/>
<line x1="421.2" y1="124.6" x2="423.8" y2="124.6" stroke="#6a6a6a" stroke-width="1"/>
<line x1="671" y1="124.6" x2="668.4" y2="124.6" stroke="#6a6a6a" stroke-width="1"/>
<line x1="421.2" y1="176.20000000000002" x2="423.8" y2="176.20000000000002" stroke="#6a6a6a" stroke-width="1"/>
<line x1="671" y1="176.20000000000002" x2="668.4" y2="176.20000000000002" stroke="#6a6a6a" stroke-width="1"/>
<line x1="421.2" y1="227.8" x2="423.8" y2="227.8" stroke="#6a6a6a" stroke-width="1"/>
<line x1="671" y1="227.8" x2="668.4" y2="227.8" stroke="#6a6a6a" stroke-width="1"/>
<text x="408.25" y="25.80" font-family="'Liberation Sans', sans-serif" font-size="12.7" font-weight="normal" font-style="normal" fill="#1a1a1a" stroke="#1a1a1a" stroke-width="0.55">0</text>
<text x="404.12" y="77.40" font-family="'Liberation Sans', sans-serif" font-size="12.7" font-weight="normal" font-style="normal" fill="#1a1a1a" stroke="#1a1a1a" stroke-width="0.55">-2</text>
<text x="403.88" y="129.00" font-family="'Liberation Sans', sans-serif" font-size="12.7" font-weight="normal" font-style="normal" fill="#1a1a1a" stroke="#1a1a1a" stroke-width="0.55">-4</text>
<text x="404.06" y="180.60" font-family="'Liberation Sans', sans-serif" font-size="12.7" font-weight="normal" font-style="normal" fill="#1a1a1a" stroke="#1a1a1a" stroke-width="0.55">-6</text>
<text x="404.06" y="232.20" font-family="'Liberation Sans', sans-serif" font-size="12.7" font-weight="normal" font-style="normal" fill="#1a1a1a" stroke="#1a1a1a" stroke-width="0.55">-8</text>
<text x="417.67" y="244.90" font-family="'Liberation Sans', sans-serif" font-size="12.7" font-weight="normal" font-style="normal" fill="#1a1a1a" stroke="#1a1a1a" stroke-width="0.55">-0.8</text>
<text x="498.27" y="244.90" font-family="'Liberation Sans', sans-serif" font-size="12.7" font-weight="normal" font-style="normal" fill="#1a1a1a" stroke="#1a1a1a" stroke-width="0.55">-0.6</text>
<text x="578.78" y="244.90" font-family="'Liberation Sans', sans-serif" font-size="12.7" font-weight="normal" font-style="normal" fill="#1a1a1a" stroke="#1a1a1a" stroke-width="0.55">-0.4</text>
<text x="659.51" y="244.90" font-family="'Liberation Sans', sans-serif" font-size="12.7" font-weight="normal" font-style="normal" fill="#1a1a1a" stroke="#1a1a1a" stroke-width="0.55">-0.2</text>
<text x="510.09" y="263.50" font-family="'Liberation Serif', serif" font-size="14.5" font-weight="normal" font-style="italic" fill="#1a1a1a" stroke="#1a1a1a" stroke-width="0.2">E</text>
<text x="517.46" y="265.60" font-family="'Liberation Serif', serif" font-size="9.2" font-weight="normal" font-style="normal" fill="#1a1a1a" stroke="#1a1a1a" stroke-width="0.13142857142857142">M</text>
<text x="530.70" y="263.50" font-family="'Liberation Sans', sans-serif" font-size="13.5" font-weight="normal" font-style="normal" fill="#1a1a1a" stroke="#1a1a1a" stroke-width="0.33749999999999997">/ V (RHE)</text>
<text transform="translate(388.3,129.3) rotate(-90)" font-family="'Liberation Sans', sans-serif" font-size="14" text-anchor="middle" fill="#1a1a1a" stroke="#1a1a1a" stroke-width="0.35"><tspan font-style="italic">j</tspan><tspan dx="0.8"> / mA cm</tspan><tspan font-size="10" dy="-5">-2</tspan></text>
<line x1="440.6" y1="22.4" x2="440.6" y2="227.8" stroke="#333" stroke-width="1.2" stroke-dasharray="3.1,2.8"/>
<path d="M426.97,158.04 L427.25,157.51 L427.52,156.97 L427.79,156.43 L428.06,155.89 L428.33,155.36 L428.59,154.82 L428.85,154.27 L429.11,153.73 L429.37,153.19 L429.63,152.64 L429.88,152.10 L430.13,151.55 L430.38,151.01 L430.63,150.46 L430.88,149.91 L431.12,149.36 L431.36,148.81 L431.61,148.26 L431.84,147.71 L432.08,147.15 L432.32,146.60 L432.55,146.05 L432.79,145.49 L433.02,144.94 L433.25,144.38 L433.48,143.83 L433.70,143.27 L433.93,142.71 L434.15,142.15 L434.38,141.59 L434.60,141.04 L434.82,140.48 L435.04,139.92 L435.26,139.36 L435.48,138.80 L435.69,138.23 L435.91,137.67 L436.12,137.11 L436.34,136.55 L436.55,135.99 L436.76,135.42 L436.97,134.86 L437.18,134.30 L437.39,133.73 L437.60,133.17 L437.81,132.61 L438.02,132.04 L438.23,131.48 L438.43,130.91 L438.64,130.35 L438.85,129.78 L439.05,129.22 L439.26,128.65 L439.46,128.09 L439.67,127.52 L439.87,126.95 L440.08,126.39 L440.28,125.82 L440.48,125.26 L440.69,124.69 L440.89,124.13 L441.09,123.56 L441.30,122.99 L441.50,122.43 L441.70,121.86 L441.91,121.29 L442.11,120.73 L442.31,120.16 L442.52,119.60 L442.72,119.03 L442.92,118.46 L443.13,117.90 L443.33,117.33 L443.54,116.77 L443.74,116.20 L443.95,115.64 L444.15,115.07 L444.36,114.51 L444.57,113.94 L444.77,113.38 L444.98,112.81 L445.19,112.25 L445.40,111.69 L445.61,111.12 L445.82,110.56 L446.03,109.99 L446.24,109.43 L446.45,108.87 L446.67,108.31 L446.88,107.74 L447.10,107.18 L447.31,106.62 L447.53,106.06 L447.75,105.50 L447.97,104.94 L448.19,104.38 L448.41,103.82 L448.63,103.26 L448.85,102.70 L449.07,102.14 L449.30,101.59 L449.53,101.03 L449.75,100.47 L449.98,99.92 L450.21,99.36 L450.44,98.81 L450.68,98.25 L450.91,97.70 L451.15,97.14 L451.39,96.59 L451.62,96.04 L451.86,95.49 L452.11,94.94 L452.35,94.39 L452.59,93.84 L452.84,93.29 L453.09,92.74 L453.34,92.19 L453.59,91.65 L453.84,91.10 L454.10,90.56 L454.36,90.01 L454.61,89.47 L454.88,88.93 L455.14,88.39 L455.40,87.85 L455.67,87.31 L455.94,86.77 L456.21,86.23 L456.48,85.70 L456.75,85.16 L457.03,84.63 L457.31,84.10 L457.59,83.56 L457.87,83.03 L458.16,82.50 L458.44,81.97 L458.73,81.45 L459.02,80.92 L459.32,80.39 L459.61,79.87 L459.91,79.35 L460.21,78.83 L460.51,78.31 L460.81,77.79 L461.12,77.27 L461.43,76.75 L461.74,76.24 L462.05,75.72 L462.37,75.21 L462.68,74.70 L463.00,74.19 L463.33,73.68 L463.65,73.18 L463.98,72.67 L464.31,72.17 L464.64,71.67 L464.97,71.17 L465.31,70.67 L465.65,70.17 L465.99,69.67 L466.33,69.18 L466.68,68.69 L467.02,68.20 L467.38,67.71 L467.73,67.22 L468.09,66.74 L468.44,66.26 L468.80,65.77 L469.17,65.30 L469.53,64.82 L469.90,64.34 L470.27,63.87 L470.65,63.40 L471.02,62.93 L471.40,62.46 L471.79,62.00 L472.17,61.54 L472.56,61.08 L472.95,60.62 L473.34,60.16 L473.73,59.71 L474.13,59.26 L474.53,58.81 L474.94,58.36 L475.34,57.92 L475.75,57.48 L476.16,57.04 L476.58,56.60 L476.99,56.17 L477.41,55.74 L477.84,55.31 L478.26,54.89 L478.69,54.46 L479.12,54.04 L479.55,53.63 L479.99,53.21 L480.43,52.80 L480.87,52.39 L481.32,51.99 L481.77,51.59 L482.22,51.19 L482.67,50.79 L483.13,50.40 L483.58,50.01 L484.05,49.63 L484.51,49.25 L484.98,48.87 L485.45,48.49 L485.92,48.12 L486.39,47.75 L486.87,47.38 L487.35,47.02 L487.83,46.66 L488.32,46.31 L488.81,45.95 L489.30,45.60 L489.79,45.26 L490.28,44.92 L490.78,44.58 L491.28,44.24 L491.78,43.91 L492.28,43.58 L492.79,43.25 L493.29,42.93 L493.80,42.61 L494.31,42.29 L494.83,41.98 L495.34,41.67 L495.86,41.36 L496.38,41.06 L496.90,40.75 L497.42,40.46 L497.95,40.16 L498.47,39.87 L499.00,39.58 L499.53,39.30 L500.06,39.01 L500.59,38.73 L501.13,38.46 L501.66,38.18 L502.20,37.91 L502.74,37.65 L503.28,37.38 L503.82,37.12 L504.36,36.86 L504.91,36.61 L505.45,36.35 L506.00,36.10 L506.55,35.86 L507.10,35.61 L507.65,35.37 L508.20,35.13 L508.75,34.89 L509.31,34.66 L509.86,34.43 L510.42,34.20 L510.98,33.98 L511.54,33.76 L512.10,33.54 L512.66,33.32 L513.22,33.10 L513.78,32.89 L514.35,32.68 L514.91,32.48 L515.48,32.27 L516.04,32.07 L516.61,31.87 L517.18,31.68 L517.75,31.48 L518.32,31.29 L518.89,31.10 L519.46,30.92 L520.03,30.73 L520.61,30.55 L521.18,30.37 L521.76,30.19 L522.33,30.02 L522.91,29.85 L523.49,29.68 L524.06,29.51 L524.64,29.34 L525.22,29.18 L525.80,29.02 L526.38,28.86 L526.96,28.70 L527.54,28.55 L528.12,28.40 L528.71,28.25 L529.29,28.10 L529.87,27.95 L530.46,27.81 L531.04,27.67 L531.63,27.53 L532.21,27.39 L532.80,27.26 L533.38,27.12 L533.97,26.99 L534.56,26.86 L535.15,26.73 L535.73,26.61 L536.32,26.49 L536.91,26.36 L537.50,26.25 L538.09,26.13 L538.68,26.01 L539.27,25.90 L539.86,25.79 L540.45,25.68 L541.05,25.57 L541.64,25.46 L542.23,25.36 L542.82,25.25 L543.42,25.15 L544.01,25.05 L544.60,24.96 L545.20,24.86 L545.79,24.77 L546.39,24.68 L546.98,24.59 L547.57,24.50 L548.17,24.41 L548.77,24.32 L549.36,24.24 L549.96,24.16 L550.55,24.08 L551.15,24.00 L551.75,23.92 L552.34,23.85 L552.94,23.77 L553.54,23.70 L554.13,23.63 L554.73,23.56 L555.33,23.49 L555.93,23.43 L556.52,23.36 L557.12,23.30 L557.72,23.24 L558.32,23.17 L558.92,23.12 L559.52,23.06 L560.11,23.00 L560.71,22.95 L561.31,22.89 L561.91,22.84 L562.51,22.79 L563.11,22.74 L563.71,22.69 L564.31,22.65 L564.91,22.60 L565.51,22.56 L566.11,22.51 L566.71,22.47 L567.31,22.43 L567.91,22.39 L568.51,22.35 L569.11,22.32 L569.71,22.28 L570.31,22.25 L570.91,22.21 L571.51,22.18 L572.11,22.15 L572.71,22.12 L573.31,22.09 L573.92,22.06 L574.52,22.03 L575.12,22.01 L575.72,21.98 L576.32,21.96 L576.92,21.94 L577.52,21.91 L578.12,21.89 L578.72,21.87 L579.32,21.85 L579.93,21.84 L580.53,21.82 L581.13,21.80 L581.73,21.79 L582.33,21.77 L582.93,21.76 L583.53,21.74 L584.13,21.73 L584.74,21.72 L585.34,21.71 L585.94,21.70 L586.54,21.69 L587.14,21.68 L587.74,21.67 L588.34,21.67 L588.95,21.66 L589.55,21.66 L590.15,21.65 L590.75,21.65 L591.35,21.64 L591.95,21.64 L592.55,21.64 L593.16,21.64 L593.76,21.63 L594.36,21.63 L594.96,21.63 L595.56,21.63 L596.16,21.63 L596.76,21.64 L597.37,21.64 L597.97,21.64 L598.57,21.64 L599.17,21.65 L599.77,21.65 L600.37,21.65 L600.97,21.66 L601.58,21.66 L602.18,21.67 L602.78,21.67 L603.38,21.68 L603.98,21.68 L604.58,21.69 L605.18,21.70 L605.79,21.70 L606.39,21.71 L606.99,21.72 L607.59,21.73 L608.19,21.74 L608.79,21.74 L609.39,21.75 L610.00,21.76 L610.60,21.77 L611.20,21.78 L611.80,21.79 L612.40,21.80 L613.00,21.81 L613.60,21.82 L614.20,21.83 L614.81,21.83 L615.41,21.84 L616.01,21.85 L616.61,21.86 L617.21,21.87 L617.81,21.88 L618.41,21.89 L619.02,21.90 L619.62,21.91 L620.22,21.92 L620.82,21.93 L621.42,21.94 L622.02,21.95 L622.62,21.96 L623.23,21.97 L623.83,21.97 L624.43,21.98 L625.03,21.99 L625.63,22.00 L626.23,22.01 L626.83,22.01 L627.44,22.02 L628.04,22.03 L628.64,22.04 L629.24,22.04 L629.84,22.05 L630.44,22.05 L631.04,22.06 L631.65,22.07 L632.25,22.07 L632.85,22.07 L633.45,22.08 L634.05,22.08 L634.65,22.09 L635.25,22.09 L635.86,22.09 L636.46,22.09 L637.06,22.09 L637.66,22.09 L638.26,22.09 L638.86,22.09 L639.46,22.09 L640.07,22.09 L640.67,22.09 L641.27,22.09 L641.87,22.08 L642.47,22.08 L643.07,22.08 L643.67,22.07 L644.28,22.06 L644.88,22.06 L645.48,22.05 L646.08,22.04 L646.68,22.03 L647.28,22.02 L647.88,22.01 L648.49,22.00 L649.09,21.99 L649.69,21.98 L650.29,21.96 L650.89,21.95 L651.49,21.93 L652.09,21.92 L652.69,21.90 L653.30,21.88 L653.90,21.86 L654.50,21.84 L655.10,21.82 L655.70,21.80 L656.30,21.78 L656.90,21.75 L657.50,21.73 L658.10,21.70 L658.70,21.67 L659.30,21.64 L659.91,21.61 L660.51,21.58 L661.11,21.55 L661.71,21.52 L662.31,21.50 L662.91,21.50 L663.51,21.50 L664.11,21.50 L664.71,21.50 L665.32,21.50 L665.92,21.50 L666.52,21.50 L667.12,21.50 L667.72,21.50 L668.32,21.50 L668.92,21.50 L669.53,21.50 L670.13,21.50 L670.73,21.50" fill="none" stroke="#de3a42" stroke-width="1.1" stroke-linejoin="round"/>
<circle cx="426.97" cy="158.04" r="2.3" fill="none" stroke="#de3a42" stroke-width="1.1"/>
<circle cx="429.37" cy="153.19" r="2.3" fill="none" stroke="#de3a42" stroke-width="1.1"/>
<circle cx="431.61" cy="148.26" r="2.3" fill="none" stroke="#de3a42" stroke-width="1.1"/>
<circle cx="433.70" cy="143.27" r="2.3" fill="none" stroke="#de3a42" stroke-width="1.1"/>
<circle cx="435.69" cy="138.23" r="2.3" fill="none" stroke="#de3a42" stroke-width="1.1"/>
<circle cx="437.60" cy="133.17" r="2.3" fill="none" stroke="#de3a42" stroke-width="1.1"/>
<circle cx="439.46" cy="128.09" r="2.3" fill="none" stroke="#de3a42" stroke-width="1.1"/>
<circle cx="441.30" cy="122.99" r="2.3" fill="none" stroke="#de3a42" stroke-width="1.1"/>
<circle cx="443.13" cy="117.90" r="2.3" fill="none" stroke="#de3a42" stroke-width="1.1"/>
<circle cx="444.98" cy="112.81" r="2.3" fill="none" stroke="#de3a42" stroke-width="1.1"/>
<circle cx="446.88" cy="107.74" r="2.3" fill="none" stroke="#de3a42" stroke-width="1.1"/>
<circle cx="448.85" cy="102.70" r="2.3" fill="none" stroke="#de3a42" stroke-width="1.1"/>
<circle cx="450.91" cy="97.70" r="2.3" fill="none" stroke="#de3a42" stroke-width="1.1"/>
<circle cx="453.09" cy="92.74" r="2.3" fill="none" stroke="#de3a42" stroke-width="1.1"/>
<circle cx="455.40" cy="87.85" r="2.3" fill="none" stroke="#de3a42" stroke-width="1.1"/>
<circle cx="457.87" cy="83.03" r="2.3" fill="none" stroke="#de3a42" stroke-width="1.1"/>
<circle cx="460.51" cy="78.31" r="2.3" fill="none" stroke="#de3a42" stroke-width="1.1"/>
<circle cx="463.33" cy="73.68" r="2.3" fill="none" stroke="#de3a42" stroke-width="1.1"/>
<circle cx="466.68" cy="68.69" r="2.3" fill="none" stroke="#de3a42" stroke-width="1.1"/>
<circle cx="470.27" cy="63.87" r="2.3" fill="none" stroke="#de3a42" stroke-width="1.1"/>
<circle cx="474.13" cy="59.26" r="2.3" fill="none" stroke="#de3a42" stroke-width="1.1"/>
<circle cx="478.69" cy="54.46" r="2.3" fill="none" stroke="#de3a42" stroke-width="1.1"/>
<circle cx="483.58" cy="50.01" r="2.3" fill="none" stroke="#de3a42" stroke-width="1.1"/>
<circle cx="489.30" cy="45.60" r="2.3" fill="none" stroke="#de3a42" stroke-width="1.1"/>
<circle cx="496.38" cy="41.06" r="2.3" fill="none" stroke="#de3a42" stroke-width="1.1"/>
<circle cx="504.36" cy="36.86" r="2.3" fill="none" stroke="#de3a42" stroke-width="1.1"/>
<circle cx="513.78" cy="32.89" r="2.3" fill="none" stroke="#de3a42" stroke-width="1.1"/>
<circle cx="525.22" cy="29.18" r="2.3" fill="none" stroke="#de3a42" stroke-width="1.1"/>
<circle cx="541.00" cy="25.58" r="2.3" fill="none" stroke="#de3a42" stroke-width="1.1"/>
<circle cx="551.50" cy="23.95" r="2.3" fill="none" stroke="#de3a42" stroke-width="1.1"/>
<circle cx="564.60" cy="22.62" r="2.3" fill="none" stroke="#de3a42" stroke-width="1.1"/>
<circle cx="581.70" cy="21.79" r="2.3" fill="none" stroke="#de3a42" stroke-width="1.1"/>
<circle cx="598.50" cy="21.64" r="2.3" fill="none" stroke="#de3a42" stroke-width="1.1"/>
<circle cx="617.80" cy="21.88" r="2.3" fill="none" stroke="#de3a42" stroke-width="1.1"/>
<circle cx="638.20" cy="22.09" r="2.3" fill="none" stroke="#de3a42" stroke-width="1.1"/>
<circle cx="655.30" cy="21.81" r="2.3" fill="none" stroke="#de3a42" stroke-width="1.1"/>
<circle cx="667.10" cy="21.50" r="2.3" fill="none" stroke="#de3a42" stroke-width="1.1"/>
<path d="M427.73,165.77 L427.89,165.19 L428.05,164.60 L428.21,164.02 L428.36,163.44 L428.51,162.86 L428.67,162.28 L428.82,161.69 L428.96,161.11 L429.11,160.52 L429.26,159.94 L429.40,159.36 L429.54,158.77 L429.68,158.19 L429.82,157.60 L429.96,157.01 L430.10,156.43 L430.24,155.84 L430.37,155.25 L430.51,154.67 L430.64,154.08 L430.77,153.49 L430.90,152.91 L431.04,152.32 L431.17,151.73 L431.29,151.14 L431.42,150.55 L431.55,149.97 L431.68,149.38 L431.80,148.79 L431.93,148.20 L432.06,147.61 L432.18,147.02 L432.30,146.43 L432.43,145.84 L432.55,145.25 L432.67,144.66 L432.80,144.07 L432.92,143.48 L433.04,142.90 L433.16,142.31 L433.28,141.72 L433.40,141.13 L433.52,140.54 L433.65,139.95 L433.77,139.36 L433.89,138.77 L434.01,138.18 L434.13,137.59 L434.25,137.00 L434.37,136.41 L434.49,135.82 L434.61,135.23 L434.73,134.64 L434.85,134.05 L434.97,133.46 L435.10,132.87 L435.22,132.28 L435.34,131.69 L435.46,131.10 L435.59,130.51 L435.71,129.92 L435.83,129.33 L435.96,128.74 L436.08,128.15 L436.21,127.56 L436.33,126.97 L436.46,126.39 L436.58,125.80 L436.71,125.21 L436.84,124.62 L436.97,124.03 L437.10,123.44 L437.23,122.86 L437.36,122.27 L437.49,121.68 L437.62,121.09 L437.75,120.51 L437.89,119.92 L438.02,119.33 L438.16,118.75 L438.30,118.16 L438.43,117.57 L438.57,116.99 L438.71,116.40 L438.85,115.82 L438.99,115.23 L439.14,114.65 L439.28,114.06 L439.43,113.48 L439.57,112.89 L439.72,112.31 L439.87,111.73 L440.02,111.14 L440.17,110.56 L440.32,109.98 L440.48,109.39 L440.63,108.81 L440.79,108.23 L440.95,107.65 L441.11,107.07 L441.27,106.49 L441.43,105.91 L441.59,105.33 L441.76,104.75 L441.93,104.17 L442.10,103.60 L442.27,103.02 L442.44,102.44 L442.61,101.86 L442.79,101.29 L442.97,100.71 L443.14,100.14 L443.33,99.56 L443.51,98.99 L443.69,98.42 L443.88,97.84 L444.07,97.27 L444.26,96.70 L444.45,96.13 L444.65,95.56 L444.84,94.99 L445.04,94.42 L445.24,93.86 L445.44,93.29 L445.65,92.72 L445.85,92.16 L446.06,91.59 L446.27,91.03 L446.48,90.46 L446.70,89.90 L446.91,89.34 L447.13,88.78 L447.35,88.22 L447.58,87.66 L447.80,87.10 L448.03,86.54 L448.26,85.99 L448.49,85.43 L448.73,84.88 L448.96,84.32 L449.20,83.77 L449.44,83.22 L449.68,82.67 L449.93,82.12 L450.18,81.57 L450.43,81.02 L450.68,80.47 L450.93,79.93 L451.19,79.38 L451.45,78.84 L451.71,78.30 L451.97,77.76 L452.24,77.22 L452.51,76.68 L452.78,76.14 L453.06,75.60 L453.33,75.07 L453.61,74.53 L453.89,74.00 L454.18,73.47 L454.46,72.94 L454.75,72.41 L455.04,71.89 L455.34,71.36 L455.64,70.84 L455.94,70.32 L456.24,69.80 L456.54,69.28 L456.85,68.76 L457.16,68.24 L457.48,67.73 L457.79,67.22 L458.11,66.71 L458.43,66.20 L458.76,65.69 L459.08,65.18 L459.41,64.68 L459.75,64.18 L460.08,63.68 L460.42,63.18 L460.76,62.69 L461.11,62.19 L461.46,61.70 L461.81,61.21 L462.16,60.72 L462.52,60.24 L462.88,59.76 L463.24,59.28 L463.61,58.80 L463.98,58.32 L464.35,57.85 L464.72,57.38 L465.10,56.91 L465.48,56.44 L465.87,55.98 L466.25,55.52 L466.64,55.06 L467.04,54.61 L467.44,54.15 L467.84,53.70 L468.24,53.26 L468.65,52.81 L469.06,52.37 L469.47,51.93 L469.88,51.50 L470.30,51.07 L470.73,50.64 L471.15,50.21 L471.58,49.79 L472.01,49.37 L472.45,48.95 L472.89,48.54 L473.33,48.13 L473.78,47.73 L474.22,47.33 L474.68,46.93 L475.13,46.53 L475.59,46.14 L476.05,45.76 L476.52,45.37 L476.98,44.99 L477.45,44.62 L477.93,44.25 L478.41,43.88 L478.88,43.52 L479.37,43.16 L479.85,42.80 L480.34,42.45 L480.83,42.10 L481.33,41.76 L481.82,41.42 L482.32,41.08 L482.83,40.75 L483.33,40.42 L483.84,40.09 L484.35,39.77 L484.86,39.46 L485.37,39.14 L485.89,38.83 L486.41,38.53 L486.93,38.22 L487.45,37.93 L487.98,37.63 L488.50,37.34 L489.03,37.05 L489.56,36.77 L490.10,36.49 L490.63,36.21 L491.17,35.94 L491.71,35.67 L492.25,35.40 L492.79,35.14 L493.33,34.88 L493.88,34.63 L494.42,34.37 L494.97,34.12 L495.52,33.88 L496.07,33.64 L496.63,33.40 L497.18,33.16 L497.74,32.93 L498.29,32.70 L498.85,32.48 L499.41,32.25 L499.97,32.03 L500.53,31.82 L501.10,31.60 L501.66,31.39 L502.22,31.19 L502.79,30.98 L503.36,30.78 L503.93,30.58 L504.50,30.39 L505.07,30.19 L505.64,30.01 L506.21,29.82 L506.78,29.63 L507.36,29.45 L507.93,29.28 L508.51,29.10 L509.09,28.93 L509.66,28.76 L510.24,28.59 L510.82,28.42 L511.40,28.26 L511.98,28.10 L512.56,27.94 L513.15,27.79 L513.73,27.64 L514.31,27.49 L514.89,27.34 L515.48,27.20 L516.06,27.05 L516.65,26.91 L517.24,26.78 L517.82,26.64 L518.41,26.51 L519.00,26.38 L519.59,26.25 L520.17,26.12 L520.76,26.00 L521.35,25.87 L521.94,25.75 L522.53,25.63 L523.12,25.52 L523.72,25.40 L524.31,25.29 L524.90,25.18 L525.49,25.08 L526.08,24.97 L526.68,24.87 L527.27,24.76 L527.86,24.66 L528.46,24.56 L529.05,24.47 L529.65,24.37 L530.24,24.28 L530.84,24.19 L531.43,24.10 L532.03,24.01 L532.63,23.93 L533.22,23.84 L533.82,23.76 L534.41,23.68 L535.01,23.60 L535.61,23.52 L536.21,23.45 L536.80,23.37 L537.40,23.30 L538.00,23.23 L538.60,23.16 L539.20,23.09 L539.79,23.03 L540.39,22.96 L540.99,22.90 L541.59,22.84 L542.19,22.77 L542.79,22.72 L543.39,22.66 L543.99,22.60 L544.59,22.55 L545.19,22.49 L545.79,22.44 L546.39,22.39 L546.99,22.34 L547.59,22.29 L548.19,22.24 L548.79,22.19 L549.39,22.15 L549.99,22.10 L550.59,22.06 L551.19,22.02 L551.79,21.98 L552.39,21.94 L552.99,21.90 L553.59,21.86 L554.19,21.83 L554.79,21.79 L555.40,21.76 L556.00,21.73 L556.60,21.69 L557.20,21.66 L557.80,21.63 L558.40,21.60 L559.00,21.58 L559.61,21.55 L560.21,21.52 L560.81,21.50 L561.41,21.50 L562.01,21.50 L562.61,21.50 L563.22,21.50 L563.82,21.50 L564.42,21.50 L565.02,21.50 L565.63,21.50 L566.23,21.50 L566.83,21.50 L567.43,21.50 L568.03,21.50 L568.64,21.50 L569.24,21.50 L569.84,21.50 L570.44,21.50 L571.04,21.50 L571.65,21.50 L572.25,21.50 L572.85,21.50 L573.45,21.50 L574.06,21.50 L574.66,21.50 L575.26,21.50 L575.86,21.50 L576.46,21.50 L577.07,21.50 L577.67,21.50 L578.27,21.50 L578.87,21.50 L579.47,21.50 L580.08,21.50 L580.68,21.50 L581.28,21.50 L581.88,21.50 L582.48,21.50 L583.09,21.50 L583.69,21.50 L584.29,21.50 L584.89,21.50 L585.50,21.50 L586.10,21.50 L586.70,21.50 L587.30,21.50 L587.90,21.50 L588.51,21.50 L589.11,21.50 L589.71,21.50 L590.31,21.50 L590.91,21.50 L591.52,21.50 L592.12,21.50 L592.72,21.50 L593.32,21.50 L593.93,21.50 L594.53,21.50 L595.13,21.50 L595.73,21.50 L596.33,21.50 L596.94,21.50 L597.54,21.50 L598.14,21.50 L598.74,21.50 L599.34,21.50 L599.95,21.50 L600.55,21.50 L601.15,21.50 L601.75,21.50 L602.35,21.50 L602.96,21.50 L603.56,21.50 L604.16,21.50 L604.76,21.50 L605.37,21.50 L605.97,21.50 L606.57,21.50 L607.17,21.50 L607.77,21.50 L608.38,21.50 L608.98,21.52 L609.58,21.53 L610.18,21.54 L610.78,21.56 L611.39,21.57 L611.99,21.58 L612.59,21.60 L613.19,21.61 L613.79,21.63 L614.40,21.64 L615.00,21.65 L615.60,21.67 L616.20,21.68 L616.80,21.69 L617.41,21.71 L618.01,21.72 L618.61,21.73 L619.21,21.74 L619.81,21.76 L620.42,21.77 L621.02,21.78 L621.62,21.79 L622.22,21.81 L622.82,21.82 L623.43,21.83 L624.03,21.84 L624.63,21.85 L625.23,21.86 L625.83,21.87 L626.44,21.88 L627.04,21.89 L627.64,21.90 L628.24,21.91 L628.84,21.92 L629.45,21.92 L630.05,21.93 L630.65,21.94 L631.25,21.95 L631.85,21.95 L632.46,21.96 L633.06,21.96 L633.66,21.97 L634.26,21.97 L634.86,21.98 L635.47,21.98 L636.07,21.98 L636.67,21.99 L637.27,21.99 L637.88,21.99 L638.48,21.99 L639.08,21.99 L639.68,21.99 L640.28,21.99 L640.89,21.99 L641.49,21.99 L642.09,21.99 L642.69,21.98 L643.29,21.98 L643.90,21.98 L644.50,21.97 L645.10,21.97 L645.70,21.96 L646.30,21.95 L646.91,21.95 L647.51,21.94 L648.11,21.93 L648.71,21.92 L649.32,21.91 L649.92,21.90 L650.52,21.89 L651.12,21.87 L651.72,21.86 L652.33,21.84 L652.93,21.83 L653.53,21.81 L654.13,21.80 L654.73,21.78 L655.33,21.76 L655.94,21.74 L656.54,21.72 L657.14,21.70 L657.74,21.68 L658.34,21.66 L658.94,21.63 L659.55,21.61 L660.15,21.58 L660.75,21.56 L661.35,21.53 L661.95,21.50 L662.55,21.50 L663.16,21.50 L663.76,21.50 L664.36,21.50 L664.96,21.50 L665.57,21.50 L666.17,21.50 L666.77,21.50 L667.37,21.50 L667.97,21.50 L668.58,21.50 L669.18,21.50 L669.78,21.50 L670.38,21.50 L670.98,21.50" fill="none" stroke="#238a4c" stroke-width="1.1" stroke-linejoin="round"/>
<circle cx="427.73" cy="165.77" r="2.3" fill="none" stroke="#238a4c" stroke-width="1.1"/>
<circle cx="428.96" cy="161.11" r="2.3" fill="none" stroke="#238a4c" stroke-width="1.1"/>
<circle cx="430.10" cy="156.43" r="2.3" fill="none" stroke="#238a4c" stroke-width="1.1"/>
<circle cx="431.17" cy="151.73" r="2.3" fill="none" stroke="#238a4c" stroke-width="1.1"/>
<circle cx="432.18" cy="147.02" r="2.3" fill="none" stroke="#238a4c" stroke-width="1.1"/>
<circle cx="433.16" cy="142.31" r="2.3" fill="none" stroke="#238a4c" stroke-width="1.1"/>
<circle cx="434.13" cy="137.59" r="2.3" fill="none" stroke="#238a4c" stroke-width="1.1"/>
<circle cx="435.10" cy="132.87" r="2.3" fill="none" stroke="#238a4c" stroke-width="1.1"/>
<circle cx="436.08" cy="128.15" r="2.3" fill="none" stroke="#238a4c" stroke-width="1.1"/>
<circle cx="437.10" cy="123.44" r="2.3" fill="none" stroke="#238a4c" stroke-width="1.1"/>
<circle cx="438.16" cy="118.75" r="2.3" fill="none" stroke="#238a4c" stroke-width="1.1"/>
<circle cx="439.28" cy="114.06" r="2.3" fill="none" stroke="#238a4c" stroke-width="1.1"/>
<circle cx="440.48" cy="109.39" r="2.3" fill="none" stroke="#238a4c" stroke-width="1.1"/>
<circle cx="441.76" cy="104.75" r="2.3" fill="none" stroke="#238a4c" stroke-width="1.1"/>
<circle cx="443.14" cy="100.14" r="2.3" fill="none" stroke="#238a4c" stroke-width="1.1"/>
<circle cx="444.84" cy="94.99" r="2.3" fill="none" stroke="#238a4c" stroke-width="1.1"/>
<circle cx="446.70" cy="89.90" r="2.3" fill="none" stroke="#238a4c" stroke-width="1.1"/>
<circle cx="448.73" cy="84.88" r="2.3" fill="none" stroke="#238a4c" stroke-width="1.1"/>
<circle cx="450.93" cy="79.93" r="2.3" fill="none" stroke="#238a4c" stroke-width="1.1"/>
<circle cx="453.33" cy="75.07" r="2.3" fill="none" stroke="#238a4c" stroke-width="1.1"/>
<circle cx="455.94" cy="70.32" r="2.3" fill="none" stroke="#238a4c" stroke-width="1.1"/>
<circle cx="458.76" cy="65.69" r="2.3" fill="none" stroke="#238a4c" stroke-width="1.1"/>
<circle cx="462.16" cy="60.72" r="2.3" fill="none" stroke="#238a4c" stroke-width="1.1"/>
<circle cx="465.87" cy="55.98" r="2.3" fill="none" stroke="#238a4c" stroke-width="1.1"/>
<circle cx="470.30" cy="51.07" r="2.3" fill="none" stroke="#238a4c" stroke-width="1.1"/>
<circle cx="475.13" cy="46.53" r="2.3" fill="none" stroke="#238a4c" stroke-width="1.1"/>
<circle cx="480.83" cy="42.10" r="2.3" fill="none" stroke="#238a4c" stroke-width="1.1"/>
<circle cx="487.98" cy="37.63" r="2.3" fill="none" stroke="#238a4c" stroke-width="1.1"/>
<circle cx="496.63" cy="33.40" r="2.3" fill="none" stroke="#238a4c" stroke-width="1.1"/>
<circle cx="507.36" cy="29.45" r="2.3" fill="none" stroke="#238a4c" stroke-width="1.1"/>
<circle cx="520.17" cy="26.12" r="2.3" fill="none" stroke="#238a4c" stroke-width="1.1"/>
<circle cx="535.61" cy="23.52" r="2.3" fill="none" stroke="#238a4c" stroke-width="1.1"/>
<circle cx="548.90" cy="22.19" r="2.3" fill="none" stroke="#238a4c" stroke-width="1.1"/>
<circle cx="564.60" cy="21.50" r="2.3" fill="none" stroke="#238a4c" stroke-width="1.1"/>
<circle cx="585.60" cy="21.50" r="2.3" fill="none" stroke="#238a4c" stroke-width="1.1"/>
<circle cx="605.20" cy="21.50" r="2.3" fill="none" stroke="#238a4c" stroke-width="1.1"/>
<circle cx="625.20" cy="21.86" r="2.3" fill="none" stroke="#238a4c" stroke-width="1.1"/>
<circle cx="646.00" cy="21.96" r="2.3" fill="none" stroke="#238a4c" stroke-width="1.1"/>
<circle cx="654.00" cy="21.80" r="2.3" fill="none" stroke="#238a4c" stroke-width="1.1"/>
<circle cx="667.10" cy="21.50" r="2.3" fill="none" stroke="#238a4c" stroke-width="1.1"/>
<path d="M429.03,173.35 L429.22,172.78 L429.41,172.21 L429.59,171.64 L429.78,171.07 L429.96,170.49 L430.13,169.92 L430.30,169.34 L430.47,168.77 L430.64,168.19 L430.80,167.61 L430.97,167.03 L431.12,166.45 L431.28,165.87 L431.43,165.29 L431.58,164.71 L431.73,164.12 L431.87,163.54 L432.02,162.96 L432.15,162.37 L432.29,161.79 L432.43,161.20 L432.56,160.61 L432.69,160.03 L432.82,159.44 L432.94,158.85 L433.07,158.26 L433.19,157.68 L433.31,157.09 L433.43,156.50 L433.54,155.91 L433.66,155.32 L433.77,154.73 L433.88,154.13 L433.99,153.54 L434.09,152.95 L434.20,152.36 L434.30,151.77 L434.40,151.18 L434.50,150.58 L434.60,149.99 L434.70,149.40 L434.80,148.80 L434.89,148.21 L434.98,147.62 L435.08,147.02 L435.17,146.43 L435.26,145.83 L435.35,145.24 L435.43,144.64 L435.52,144.05 L435.61,143.45 L435.69,142.86 L435.78,142.26 L435.86,141.67 L435.94,141.07 L436.02,140.48 L436.10,139.88 L436.18,139.29 L436.26,138.69 L436.34,138.09 L436.42,137.50 L436.50,136.90 L436.58,136.31 L436.65,135.71 L436.73,135.11 L436.81,134.52 L436.88,133.92 L436.96,133.33 L437.03,132.73 L437.11,132.13 L437.18,131.54 L437.26,130.94 L437.33,130.34 L437.41,129.75 L437.48,129.15 L437.56,128.55 L437.63,127.96 L437.71,127.36 L437.78,126.76 L437.86,126.17 L437.94,125.57 L438.01,124.98 L438.09,124.38 L438.16,123.78 L438.24,123.19 L438.32,122.59 L438.40,121.99 L438.47,121.40 L438.55,120.80 L438.63,120.21 L438.71,119.61 L438.79,119.02 L438.88,118.42 L438.96,117.82 L439.04,117.23 L439.12,116.63 L439.21,116.04 L439.29,115.44 L439.38,114.85 L439.47,114.25 L439.56,113.66 L439.65,113.07 L439.74,112.47 L439.83,111.88 L439.92,111.28 L440.01,110.69 L440.11,110.10 L440.20,109.50 L440.30,108.91 L440.40,108.32 L440.50,107.72 L440.60,107.13 L440.71,106.54 L440.81,105.95 L440.92,105.35 L441.02,104.76 L441.13,104.17 L441.24,103.58 L441.36,102.99 L441.47,102.40 L441.59,101.81 L441.70,101.22 L441.82,100.63 L441.94,100.04 L442.07,99.45 L442.19,98.87 L442.32,98.28 L442.45,97.69 L442.58,97.11 L442.71,96.52 L442.85,95.93 L442.98,95.35 L443.12,94.76 L443.26,94.18 L443.41,93.60 L443.55,93.01 L443.70,92.43 L443.85,91.85 L444.00,91.27 L444.16,90.69 L444.32,90.11 L444.48,89.53 L444.64,88.95 L444.81,88.37 L444.97,87.79 L445.14,87.22 L445.32,86.64 L445.49,86.06 L445.67,85.49 L445.85,84.92 L446.03,84.34 L446.22,83.77 L446.41,83.20 L446.60,82.63 L446.79,82.06 L446.99,81.50 L447.19,80.93 L447.39,80.36 L447.60,79.80 L447.80,79.23 L448.01,78.67 L448.22,78.11 L448.44,77.55 L448.66,76.99 L448.88,76.43 L449.10,75.87 L449.33,75.31 L449.56,74.76 L449.79,74.20 L450.03,73.65 L450.26,73.10 L450.51,72.55 L450.75,72.00 L451.00,71.45 L451.25,70.90 L451.50,70.36 L451.75,69.81 L452.01,69.27 L452.27,68.73 L452.54,68.19 L452.81,67.65 L453.08,67.11 L453.35,66.58 L453.63,66.05 L453.91,65.51 L454.19,64.98 L454.48,64.45 L454.77,63.93 L455.06,63.40 L455.36,62.88 L455.66,62.36 L455.96,61.84 L456.27,61.32 L456.58,60.81 L456.89,60.29 L457.20,59.78 L457.52,59.27 L457.85,58.77 L458.17,58.26 L458.50,57.76 L458.84,57.26 L459.17,56.76 L459.51,56.26 L459.86,55.77 L460.20,55.28 L460.55,54.79 L460.91,54.31 L461.27,53.82 L461.63,53.34 L461.99,52.87 L462.36,52.39 L462.73,51.92 L463.11,51.45 L463.49,50.98 L463.87,50.52 L464.26,50.06 L464.65,49.60 L465.05,49.15 L465.44,48.70 L465.85,48.25 L466.25,47.81 L466.66,47.37 L467.08,46.93 L467.49,46.50 L467.91,46.07 L468.34,45.65 L468.77,45.23 L469.20,44.81 L469.64,44.39 L470.08,43.99 L470.52,43.58 L470.97,43.18 L471.42,42.78 L471.87,42.39 L472.33,42.00 L472.80,41.62 L473.26,41.24 L473.73,40.86 L474.21,40.49 L474.68,40.13 L475.16,39.77 L475.65,39.41 L476.14,39.06 L476.63,38.71 L477.12,38.37 L477.62,38.03 L478.12,37.70 L478.62,37.37 L479.13,37.05 L479.64,36.73 L480.15,36.41 L480.66,36.10 L481.18,35.79 L481.70,35.49 L482.22,35.19 L482.75,34.90 L483.27,34.61 L483.80,34.33 L484.34,34.05 L484.87,33.77 L485.41,33.50 L485.94,33.23 L486.48,32.97 L487.03,32.71 L487.57,32.46 L488.12,32.20 L488.67,31.96 L489.22,31.72 L489.77,31.48 L490.32,31.24 L490.88,31.01 L491.43,30.78 L491.99,30.56 L492.55,30.34 L493.11,30.13 L493.67,29.91 L494.24,29.71 L494.80,29.50 L495.37,29.30 L495.94,29.10 L496.51,28.91 L497.08,28.72 L497.65,28.53 L498.22,28.35 L498.79,28.17 L499.37,27.99 L499.94,27.82 L500.52,27.65 L501.10,27.48 L501.68,27.32 L502.26,27.16 L502.84,27.00 L503.42,26.84 L504.00,26.69 L504.58,26.54 L505.16,26.40 L505.75,26.25 L506.33,26.11 L506.92,25.98 L507.50,25.84 L508.09,25.71 L508.68,25.58 L509.27,25.45 L509.85,25.33 L510.44,25.21 L511.03,25.09 L511.62,24.98 L512.21,24.86 L512.80,24.75 L513.39,24.64 L513.99,24.54 L514.58,24.43 L515.17,24.33 L515.76,24.23 L516.36,24.13 L516.95,24.04 L517.54,23.95 L518.14,23.85 L518.73,23.77 L519.33,23.68 L519.92,23.60 L520.52,23.51 L521.11,23.43 L521.71,23.35 L522.31,23.28 L522.90,23.20 L523.50,23.13 L524.10,23.06 L524.69,22.99 L525.29,22.92 L525.89,22.86 L526.49,22.79 L527.08,22.73 L527.68,22.67 L528.28,22.61 L528.88,22.56 L529.48,22.50 L530.08,22.45 L530.67,22.39 L531.27,22.34 L531.87,22.29 L532.47,22.25 L533.07,22.20 L533.67,22.15 L534.27,22.11 L534.87,22.07 L535.47,22.03 L536.07,21.99 L536.67,21.95 L537.27,21.91 L537.87,21.88 L538.47,21.84 L539.07,21.81 L539.67,21.78 L540.27,21.74 L540.87,21.71 L541.47,21.69 L542.07,21.66 L542.67,21.63 L543.27,21.60 L543.87,21.58 L544.47,21.56 L545.07,21.53 L545.67,21.51 L546.28,21.50 L546.88,21.50 L547.48,21.50 L548.08,21.50 L548.68,21.50 L549.28,21.50 L549.88,21.50 L550.48,21.50 L551.08,21.50 L551.69,21.50 L552.29,21.50 L552.89,21.50 L553.49,21.50 L554.09,21.50 L554.69,21.50 L555.29,21.50 L555.89,21.50 L556.49,21.50 L557.10,21.50 L557.70,21.50 L558.30,21.50 L558.90,21.50 L559.50,21.50 L560.10,21.50 L560.70,21.50 L561.30,21.50 L561.90,21.50 L562.51,21.50 L563.11,21.50 L563.71,21.50 L564.31,21.50 L564.91,21.50 L565.51,21.50 L566.11,21.50 L566.71,21.50 L567.31,21.50 L567.92,21.50 L568.52,21.50 L569.12,21.50 L569.72,21.50 L570.32,21.50 L570.92,21.50 L571.52,21.50 L572.12,21.50 L572.73,21.50 L573.33,21.50 L573.93,21.50 L574.53,21.50 L575.13,21.50 L575.73,21.50 L576.33,21.50 L576.93,21.50 L577.53,21.50 L578.14,21.50 L578.74,21.50 L579.34,21.50 L579.94,21.50 L580.54,21.50 L581.14,21.50 L581.74,21.50 L582.34,21.50 L582.94,21.50 L583.55,21.50 L584.15,21.50 L584.75,21.50 L585.35,21.50 L585.95,21.50 L586.55,21.50 L587.15,21.50 L587.75,21.50 L588.35,21.50 L588.96,21.50 L589.56,21.50 L590.16,21.50 L590.76,21.50 L591.36,21.50 L591.96,21.50 L592.56,21.50 L593.16,21.50 L593.76,21.50 L594.37,21.50 L594.97,21.50 L595.57,21.50 L596.17,21.50 L596.77,21.50 L597.37,21.50 L597.97,21.50 L598.57,21.50 L599.17,21.50 L599.78,21.50 L600.38,21.50 L600.98,21.50 L601.58,21.50 L602.18,21.51 L602.78,21.51 L603.38,21.52 L603.98,21.53 L604.58,21.54 L605.19,21.55 L605.79,21.56 L606.39,21.57 L606.99,21.58 L607.59,21.59 L608.19,21.60 L608.79,21.61 L609.39,21.62 L609.99,21.62 L610.59,21.63 L611.20,21.64 L611.80,21.65 L612.40,21.66 L613.00,21.67 L613.60,21.68 L614.20,21.68 L614.80,21.69 L615.40,21.70 L616.00,21.71 L616.61,21.72 L617.21,21.72 L617.81,21.73 L618.41,21.74 L619.01,21.75 L619.61,21.75 L620.21,21.76 L620.81,21.77 L621.41,21.77 L622.02,21.78 L622.62,21.78 L623.22,21.79 L623.82,21.80 L624.42,21.80 L625.02,21.81 L625.62,21.81 L626.22,21.82 L626.82,21.82 L627.43,21.82 L628.03,21.83 L628.63,21.83 L629.23,21.83 L629.83,21.84 L630.43,21.84 L631.03,21.84 L631.63,21.84 L632.23,21.85 L632.84,21.85 L633.44,21.85 L634.04,21.85 L634.64,21.85 L635.24,21.85 L635.84,21.85 L636.44,21.85 L637.04,21.85 L637.64,21.85 L638.25,21.85 L638.85,21.85 L639.45,21.84 L640.05,21.84 L640.65,21.84 L641.25,21.84 L641.85,21.83 L642.45,21.83 L643.05,21.82 L643.66,21.82 L644.26,21.81 L644.86,21.81 L645.46,21.80 L646.06,21.80 L646.66,21.79 L647.26,21.78 L647.86,21.77 L648.46,21.77 L649.07,21.76 L649.67,21.75 L650.27,21.74 L650.87,21.73 L651.47,21.72 L652.07,21.71 L652.67,21.70 L653.27,21.68 L653.87,21.67 L654.47,21.66 L655.08,21.65 L655.68,21.63 L656.28,21.62 L656.88,21.60 L657.48,21.59 L658.08,21.57 L658.68,21.56 L659.28,21.54 L659.88,21.52 L660.48,21.51 L661.08,21.50 L661.69,21.50 L662.29,21.50 L662.89,21.50 L663.49,21.50 L664.09,21.50 L664.69,21.50 L665.29,21.50 L665.89,21.50 L666.49,21.50 L667.10,21.50 L667.70,21.50 L668.30,21.50 L668.90,21.50 L669.50,21.50 L670.10,21.50 L670.70,21.50 L671.30,21.50" fill="none" stroke="#2e3a92" stroke-width="1.1" stroke-linejoin="round"/>
<circle cx="429.03" cy="173.35" r="2.3" fill="none" stroke="#2e3a92" stroke-width="1.1"/>
<circle cx="430.47" cy="168.77" r="2.3" fill="none" stroke="#2e3a92" stroke-width="1.1"/>
<circle cx="431.73" cy="164.12" r="2.3" fill="none" stroke="#2e3a92" stroke-width="1.1"/>
<circle cx="432.82" cy="159.44" r="2.3" fill="none" stroke="#2e3a92" stroke-width="1.1"/>
<circle cx="433.77" cy="154.73" r="2.3" fill="none" stroke="#2e3a92" stroke-width="1.1"/>
<circle cx="434.60" cy="149.99" r="2.3" fill="none" stroke="#2e3a92" stroke-width="1.1"/>
<circle cx="435.35" cy="145.24" r="2.3" fill="none" stroke="#2e3a92" stroke-width="1.1"/>
<circle cx="436.02" cy="140.48" r="2.3" fill="none" stroke="#2e3a92" stroke-width="1.1"/>
<circle cx="436.65" cy="135.71" r="2.3" fill="none" stroke="#2e3a92" stroke-width="1.1"/>
<circle cx="437.26" cy="130.94" r="2.3" fill="none" stroke="#2e3a92" stroke-width="1.1"/>
<circle cx="437.86" cy="126.17" r="2.3" fill="none" stroke="#2e3a92" stroke-width="1.1"/>
<circle cx="438.47" cy="121.40" r="2.3" fill="none" stroke="#2e3a92" stroke-width="1.1"/>
<circle cx="439.12" cy="116.63" r="2.3" fill="none" stroke="#2e3a92" stroke-width="1.1"/>
<circle cx="439.83" cy="111.88" r="2.3" fill="none" stroke="#2e3a92" stroke-width="1.1"/>
<circle cx="440.60" cy="107.13" r="2.3" fill="none" stroke="#2e3a92" stroke-width="1.1"/>
<circle cx="441.47" cy="102.40" r="2.3" fill="none" stroke="#2e3a92" stroke-width="1.1"/>
<circle cx="442.45" cy="97.69" r="2.3" fill="none" stroke="#2e3a92" stroke-width="1.1"/>
<circle cx="443.55" cy="93.01" r="2.3" fill="none" stroke="#2e3a92" stroke-width="1.1"/>
<circle cx="444.81" cy="88.37" r="2.3" fill="none" stroke="#2e3a92" stroke-width="1.1"/>
<circle cx="446.22" cy="83.77" r="2.3" fill="none" stroke="#2e3a92" stroke-width="1.1"/>
<circle cx="448.01" cy="78.67" r="2.3" fill="none" stroke="#2e3a92" stroke-width="1.1"/>
<circle cx="450.03" cy="73.65" r="2.3" fill="none" stroke="#2e3a92" stroke-width="1.1"/>
<circle cx="452.27" cy="68.73" r="2.3" fill="none" stroke="#2e3a92" stroke-width="1.1"/>
<circle cx="454.77" cy="63.93" r="2.3" fill="none" stroke="#2e3a92" stroke-width="1.1"/>
<circle cx="457.52" cy="59.27" r="2.3" fill="none" stroke="#2e3a92" stroke-width="1.1"/>
<circle cx="460.91" cy="54.31" r="2.3" fill="none" stroke="#2e3a92" stroke-width="1.1"/>
<circle cx="464.65" cy="49.60" r="2.3" fill="none" stroke="#2e3a92" stroke-width="1.1"/>
<circle cx="469.20" cy="44.81" r="2.3" fill="none" stroke="#2e3a92" stroke-width="1.1"/>
<circle cx="474.68" cy="40.13" r="2.3" fill="none" stroke="#2e3a92" stroke-width="1.1"/>
<circle cx="481.18" cy="35.79" r="2.3" fill="none" stroke="#2e3a92" stroke-width="1.1"/>
<circle cx="489.77" cy="31.48" r="2.3" fill="none" stroke="#2e3a92" stroke-width="1.1"/>
<circle cx="500.52" cy="27.65" r="2.3" fill="none" stroke="#2e3a92" stroke-width="1.1"/>
<circle cx="514.58" cy="24.43" r="2.3" fill="none" stroke="#2e3a92" stroke-width="1.1"/>
<circle cx="531.27" cy="22.34" r="2.3" fill="none" stroke="#2e3a92" stroke-width="1.1"/>
<circle cx="542.30" cy="21.65" r="2.3" fill="none" stroke="#2e3a92" stroke-width="1.1"/>
<circle cx="555.40" cy="21.50" r="2.3" fill="none" stroke="#2e3a92" stroke-width="1.1"/>
<circle cx="575.10" cy="21.50" r="2.3" fill="none" stroke="#2e3a92" stroke-width="1.1"/>
<circle cx="594.20" cy="21.50" r="2.3" fill="none" stroke="#2e3a92" stroke-width="1.1"/>
<circle cx="616.00" cy="21.71" r="2.3" fill="none" stroke="#2e3a92" stroke-width="1.1"/>
<circle cx="642.10" cy="21.83" r="2.3" fill="none" stroke="#2e3a92" stroke-width="1.1"/>
<circle cx="663.20" cy="21.50" r="2.3" fill="none" stroke="#2e3a92" stroke-width="1.1"/>
<line x1="598" y1="40.8" x2="632.3" y2="40.8" stroke="#de3a42" stroke-width="1.1"/>
<circle cx="615.1" cy="40.8" r="2.3" fill="none" stroke="#de3a42" stroke-width="1.1"/>
<text x="637.2" y="47.5" font-family="'Liberation Sans', sans-serif" font-size="12.6" fill="#1a1a1a" stroke="#1a1a1a" stroke-width="0.315">K<tspan font-size="11" dx="0.6" dy="-4.6">+</tspan></text>
<line x1="598" y1="60" x2="632.3" y2="60" stroke="#238a4c" stroke-width="1.1"/>
<circle cx="615.1" cy="60" r="2.3" fill="none" stroke="#238a4c" stroke-width="1.1"/>
<text x="637.2" y="66.7" font-family="'Liberation Sans', sans-serif" font-size="12.6" fill="#1a1a1a" stroke="#1a1a1a" stroke-width="0.315">Na<tspan font-size="11" dx="0.6" dy="-4.6">+</tspan></text>
<line x1="598" y1="79.7" x2="632.3" y2="79.7" stroke="#2e3a92" stroke-width="1.1"/>
<circle cx="615.1" cy="79.7" r="2.3" fill="none" stroke="#2e3a92" stroke-width="1.1"/>
<text x="637.2" y="86.4" font-family="'Liberation Sans', sans-serif" font-size="12.6" fill="#1a1a1a" stroke="#1a1a1a" stroke-width="0.315">Li<tspan font-size="11" dx="0.6" dy="-4.6">+</tspan></text>
<line x1="460.8" y1="153.5" x2="446" y2="133.5" stroke="#1c1c30" stroke-width="1.6"/>
<path d="M442.6,129.2 L449.2,132 L444.2,136 Z" fill="#1c1c30"/>
<text x="457.46" y="169.70" font-family="'Liberation Sans', sans-serif" font-size="14" font-weight="normal" font-style="normal" fill="#1a1a1a" stroke="#1a1a1a" stroke-width="0.35">inversion</text>
<text x="584.15" y="212.80" font-family="'Liberation Sans', sans-serif" font-size="15" font-weight="normal" font-style="normal" fill="#1a1a1a" stroke="#1a1a1a" stroke-width="0.35">Experiment</text>
<path d="M64.3,323.15 L305.6,422.2 L305.6,434.3 L305.64,435.22 L305.07,435.02 L304.50,434.82 L303.93,434.63 L303.36,434.44 L302.79,434.24 L302.22,434.05 L301.64,433.86 L301.07,433.68 L300.50,433.49 L299.93,433.31 L299.35,433.12 L298.78,432.94 L298.20,432.76 L297.63,432.58 L297.05,432.40 L296.48,432.23 L295.90,432.05 L295.33,431.88 L294.75,431.71 L294.17,431.54 L293.59,431.37 L293.01,431.20 L292.44,431.03 L291.86,430.87 L291.28,430.71 L290.70,430.55 L290.12,430.39 L289.54,430.23 L288.95,430.07 L288.37,429.91 L287.79,429.76 L287.21,429.61 L286.63,429.46 L286.04,429.31 L285.46,429.16 L284.87,429.01 L284.29,428.87 L283.71,428.72 L283.12,428.58 L282.54,428.44 L281.95,428.30 L281.36,428.16 L280.78,428.02 L280.19,427.89 L279.60,427.75 L279.02,427.62 L278.43,427.49 L277.84,427.36 L277.25,427.23 L276.66,427.11 L276.07,426.98 L275.48,426.86 L274.89,426.74 L274.30,426.62 L273.71,426.50 L273.12,426.38 L272.53,426.26 L271.94,426.15 L271.35,426.04 L270.76,425.93 L270.17,425.82 L269.57,425.71 L268.98,425.60 L268.39,425.49 L267.80,425.39 L267.20,425.29 L266.61,425.19 L266.02,425.09 L265.42,424.99 L264.83,424.89 L264.23,424.80 L263.64,424.70 L263.04,424.61 L262.45,424.52 L261.85,424.43 L261.26,424.34 L260.66,424.26 L260.07,424.17 L259.47,424.09 L258.87,424.00 L258.28,423.92 L257.68,423.85 L257.08,423.77 L256.48,423.69 L255.89,423.62 L255.29,423.54 L254.69,423.47 L254.09,423.40 L253.50,423.33 L252.90,423.27 L252.30,423.20 L251.70,423.14 L251.10,423.08 L250.50,423.01 L249.90,422.95 L249.30,422.90 L248.70,422.84 L248.10,422.78 L247.50,422.73 L246.90,422.68 L246.30,422.63 L245.70,422.58 L245.10,422.53 L244.50,422.48 L243.90,422.44 L243.30,422.40 L242.70,422.35 L242.10,422.31 L241.50,422.28 L240.90,422.24 L240.30,422.20 L239.70,422.17 L239.10,422.13 L238.50,422.10 L237.89,422.07 L237.29,422.04 L236.69,422.02 L236.09,421.99 L235.49,421.97 L234.89,421.95 L234.28,421.92 L233.68,421.91 L233.08,421.89 L232.48,421.87 L231.88,421.86 L231.27,421.84 L230.67,421.83 L230.07,421.82 L229.47,421.81 L228.87,421.80 L228.26,421.80 L227.66,421.79 L227.06,421.79 L226.46,421.79 L225.86,421.79 L225.25,421.79 L224.65,421.79 L224.05,421.79 L223.45,421.80 L222.85,421.81 L222.24,421.81 L221.64,421.82 L221.04,421.84 L220.44,421.85 L219.84,421.86 L219.23,421.88 L218.63,421.90 L218.03,421.92 L217.43,421.94 L216.83,421.96 L216.22,421.98 L215.62,422.01 L215.02,422.03 L214.42,422.06 L213.82,422.09 L213.22,422.12 L212.62,422.15 L212.01,422.18 L211.41,422.22 L210.81,422.26 L210.21,422.29 L209.61,422.33 L209.01,422.37 L208.41,422.42 L207.81,422.46 L207.21,422.51 L206.61,422.55 L206.01,422.60 L205.41,422.65 L204.81,422.70 L204.21,422.75 L203.61,422.81 L203.01,422.86 L202.41,422.92 L201.81,422.98 L201.21,423.04 L200.61,423.10 L200.01,423.16 L199.41,423.23 L198.82,423.29 L198.22,423.36 L197.62,423.43 L197.02,423.50 L196.42,423.57 L195.83,423.64 L195.23,423.72 L194.63,423.79 L194.03,423.87 L193.44,423.95 L192.84,424.03 L192.24,424.11 L191.65,424.19 L191.05,424.28 L190.46,424.36 L189.86,424.45 L189.26,424.54 L188.67,424.63 L188.07,424.72 L187.48,424.81 L186.88,424.91 L186.29,425.00 L185.70,425.10 L185.10,425.20 L184.51,425.30 L183.91,425.40 L183.32,425.50 L182.73,425.61 L182.14,425.71 L181.54,425.82 L180.95,425.93 L180.36,426.04 L179.77,426.15 L179.18,426.26 L178.58,426.38 L177.99,426.49 L177.40,426.61 L176.81,426.73 L176.22,426.85 L175.63,426.97 L175.04,427.09 L174.45,427.22 L173.87,427.34 L173.28,427.47 L172.69,427.60 L172.10,427.73 L171.51,427.86 L170.93,427.99 L170.34,428.13 L169.75,428.26 L169.17,428.40 L168.58,428.54 L167.99,428.68 L167.41,428.82 L166.82,428.96 L166.24,429.11 L165.66,429.25 L165.07,429.40 L164.49,429.55 L163.90,429.70 L163.32,429.85 L162.74,430.00 L162.16,430.15 L161.58,430.31 L160.99,430.47 L160.41,430.62 L159.83,430.78 L159.25,430.94 L158.67,431.11 L158.09,431.27 L157.51,431.44 L156.93,431.60 L156.36,431.77 L155.78,431.94 L155.20,432.11 L154.62,432.28 L154.05,432.45 L153.47,432.63 L152.90,432.80 L152.32,432.98 L151.74,433.16 L151.17,433.34 L150.60,433.52 L150.02,433.70 L149.45,433.89 L148.88,434.07 L148.30,434.26 L147.73,434.45 L147.16,434.64 L146.59,434.83 L146.02,435.02 L145.45,435.22 L144.88,435.41 L144.31,435.61 L143.74,435.81 L143.17,436.00 L142.61,436.20 L142.04,436.41 L141.47,436.61 L140.90,436.81 L140.34,437.02 L139.77,437.23 L139.21,437.44 L138.64,437.65 L138.08,437.86 L137.52,438.07 L136.95,438.28 L136.39,438.50 L135.83,438.72 L135.27,438.93 L134.71,439.15 L134.15,439.37 L133.59,439.60 L133.03,439.82 L132.47,440.04 L131.91,440.27 L131.35,440.50 L130.80,440.73 L130.24,440.95 L129.69,441.19 L129.13,441.42 L128.58,441.65 L128.02,441.89 L127.47,442.12 L126.91,442.36 L126.36,442.60 L125.81,442.84 L125.26,443.08 L124.71,443.33 L124.16,443.57 L123.61,443.82 L123.06,444.06 L122.51,444.31 L121.96,444.56 L121.41,444.81 L120.87,445.06 L120.32,445.32 L119.78,445.57 L119.23,445.83 L118.69,446.09 L118.14,446.35 L117.60,446.61 L117.06,446.87 L116.52,447.13 L115.97,447.39 L115.43,447.66 L114.89,447.92 L114.35,448.19 L113.82,448.46 L113.28,448.73 L112.74,449.00 L112.20,449.28 L111.67,449.55 L111.13,449.83 L110.60,450.10 L110.06,450.38 L109.53,450.66 L109.00,450.94 L108.46,451.22 L107.93,451.50 L107.40,451.79 L106.87,452.07 L106.34,452.36 L105.81,452.65 L105.29,452.94 L104.76,453.23 L104.23,453.52 L103.71,453.81 L103.18,454.11 L102.66,454.40 L102.13,454.70 L101.61,455.00 L101.09,455.30 L100.56,455.60 L100.04,455.90 L99.52,456.20 L99.00,456.51 L98.49,456.81 L97.97,457.12 L97.45,457.43 L96.93,457.74 L96.42,458.05 L95.90,458.36 L95.39,458.67 L94.87,458.99 L94.36,459.30 L93.85,459.62 L93.34,459.94 L92.83,460.25 L92.32,460.57 L91.81,460.90 L91.30,461.22 L90.79,461.54 L90.28,461.87 L89.78,462.19 L89.27,462.52 L88.77,462.85 L88.26,463.18 L87.76,463.51 L87.26,463.84 L86.76,464.18 L86.26,464.51 L85.76,464.85 L85.26,465.18 L84.76,465.52 L84.26,465.86 L83.77,466.20 L83.27,466.54 L82.78,466.89 L82.28,467.23 L81.79,467.57 L81.30,467.92 L80.80,468.27 L80.31,468.62 L79.82,468.97 L79.33,469.32 L78.85,469.67 L78.36,470.02 L77.87,470.38 L77.39,470.73 L76.90,471.09 L76.42,471.45 L75.93,471.81 L75.45,472.17 L74.97,472.53 L74.49,472.89 L74.01,473.26 L73.53,473.62 L73.05,473.99 L72.58,474.36 L72.10,474.72 L71.62,475.09 L71.15,475.46 L70.68,475.84 L70.20,476.21 L69.73,476.58 L69.26,476.96 L68.79,477.33 L68.32,477.71 L67.85,478.09 L67.38,478.47 L66.92,478.85 L66.45,479.23 L65.99,479.61 L65.52,480.00 L65.06,480.38 L64.60,480.77 Z" fill="#e3e3e3"/>
<rect x="56.4" y="298.3" width="249.6" height="206.3" fill="none" stroke="#5a5a5a" stroke-width="1"/>
<line x1="64.3" y1="504.6" x2="64.3" y2="502.0" stroke="#6a6a6a" stroke-width="1"/>
<line x1="64.3" y1="298.3" x2="64.3" y2="300.90000000000003" stroke="#6a6a6a" stroke-width="1"/>
<line x1="144.70000000000002" y1="504.6" x2="144.70000000000002" y2="502.0" stroke="#6a6a6a" stroke-width="1"/>
<line x1="144.70000000000002" y1="298.3" x2="144.70000000000002" y2="300.90000000000003" stroke="#6a6a6a" stroke-width="1"/>
<line x1="225.10000000000002" y1="504.6" x2="225.10000000000002" y2="502.0" stroke="#6a6a6a" stroke-width="1"/>
<line x1="225.10000000000002" y1="298.3" x2="225.10000000000002" y2="300.90000000000003" stroke="#6a6a6a" stroke-width="1"/>
<line x1="305.50000000000006" y1="504.6" x2="305.50000000000006" y2="502.0" stroke="#6a6a6a" stroke-width="1"/>
<line x1="305.50000000000006" y1="298.3" x2="305.50000000000006" y2="300.90000000000003" stroke="#6a6a6a" stroke-width="1"/>
<line x1="56.4" y1="504.6" x2="59.0" y2="504.6" stroke="#6a6a6a" stroke-width="1"/>
<line x1="306" y1="504.6" x2="303.4" y2="504.6" stroke="#6a6a6a" stroke-width="1"/>
<line x1="56.4" y1="463.34000000000003" x2="59.0" y2="463.34000000000003" stroke="#6a6a6a" stroke-width="1"/>
<line x1="306" y1="463.34000000000003" x2="303.4" y2="463.34000000000003" stroke="#6a6a6a" stroke-width="1"/>
<line x1="56.4" y1="422.08000000000004" x2="59.0" y2="422.08000000000004" stroke="#6a6a6a" stroke-width="1"/>
<line x1="306" y1="422.08000000000004" x2="303.4" y2="422.08000000000004" stroke="#6a6a6a" stroke-width="1"/>
<line x1="56.4" y1="380.82000000000005" x2="59.0" y2="380.82000000000005" stroke="#6a6a6a" stroke-width="1"/>
<line x1="306" y1="380.82000000000005" x2="303.4" y2="380.82000000000005" stroke="#6a6a6a" stroke-width="1"/>
<line x1="56.4" y1="339.56" x2="59.0" y2="339.56" stroke="#6a6a6a" stroke-width="1"/>
<line x1="306" y1="339.56" x2="303.4" y2="339.56" stroke="#6a6a6a" stroke-width="1"/>
<line x1="56.4" y1="298.3" x2="59.0" y2="298.3" stroke="#6a6a6a" stroke-width="1"/>
<line x1="306" y1="298.3" x2="303.4" y2="298.3" stroke="#6a6a6a" stroke-width="1"/>
<text x="30.82" y="509.70" font-family="'Liberation Sans', sans-serif" font-size="14" font-weight="normal" font-style="normal" fill="#1a1a1a" stroke="#1a1a1a" stroke-width="0.35">0.8</text>
<g transform="translate(42.58,468.44)"><path transform="translate(0.00,0) scale(0.00684,-0.00684)" d="M740,0 L560,0 L560,1130 C520,1090 460,1050 390,1010 C320,970 260,940 210,920 L210,1090 C300,1130 380,1180 450,1240 C520,1300 570,1360 600,1409 L740,1409 Z" fill="#1a1a1a" stroke="#1a1a1a" stroke-width="43.9"/></g>
<g transform="translate(30.95,427.18)"><path transform="translate(0.00,0) scale(0.00684,-0.00684)" d="M740,0 L560,0 L560,1130 C520,1090 460,1050 390,1010 C320,970 260,940 210,920 L210,1090 C300,1130 380,1180 450,1240 C520,1300 570,1360 600,1409 L740,1409 Z" fill="#1a1a1a" stroke="#1a1a1a" stroke-width="43.9"/><text x="7.79" y="0" font-family="'Liberation Sans', sans-serif" font-size="14" fill="#1a1a1a" stroke="#1a1a1a" stroke-width="0.35">.2</text></g>
<g transform="translate(30.64,385.92)"><path transform="translate(0.00,0) scale(0.00684,-0.00684)" d="M740,0 L560,0 L560,1130 C520,1090 460,1050 390,1010 C320,970 260,940 210,920 L210,1090 C300,1130 380,1180 450,1240 C520,1300 570,1360 600,1409 L740,1409 Z" fill="#1a1a1a" stroke="#1a1a1a" stroke-width="43.9"/><text x="7.79" y="0" font-family="'Liberation Sans', sans-serif" font-size="14" fill="#1a1a1a" stroke="#1a1a1a" stroke-width="0.35">.4</text></g>
<g transform="translate(30.82,344.66)"><path transform="translate(0.00,0) scale(0.00684,-0.00684)" d="M740,0 L560,0 L560,1130 C520,1090 460,1050 390,1010 C320,970 260,940 210,920 L210,1090 C300,1130 380,1180 450,1240 C520,1300 570,1360 600,1409 L740,1409 Z" fill="#1a1a1a" stroke="#1a1a1a" stroke-width="43.9"/><text x="7.79" y="0" font-family="'Liberation Sans', sans-serif" font-size="14" fill="#1a1a1a" stroke="#1a1a1a" stroke-width="0.35">.6</text></g>
<g transform="translate(30.82,303.40)"><path transform="translate(0.00,0) scale(0.00684,-0.00684)" d="M740,0 L560,0 L560,1130 C520,1090 460,1050 390,1010 C320,970 260,940 210,920 L210,1090 C300,1130 380,1180 450,1240 C520,1300 570,1360 600,1409 L740,1409 Z" fill="#1a1a1a" stroke="#1a1a1a" stroke-width="43.9"/><text x="7.79" y="0" font-family="'Liberation Sans', sans-serif" font-size="14" fill="#1a1a1a" stroke="#1a1a1a" stroke-width="0.35">.8</text></g>
<text x="51.24" y="522.80" font-family="'Liberation Sans', sans-serif" font-size="14" font-weight="normal" font-style="normal" fill="#1a1a1a" stroke="#1a1a1a" stroke-width="0.35">-0.8</text>
<text x="131.64" y="522.80" font-family="'Liberation Sans', sans-serif" font-size="14" font-weight="normal" font-style="normal" fill="#1a1a1a" stroke="#1a1a1a" stroke-width="0.35">-0.6</text>
<text x="211.95" y="522.80" font-family="'Liberation Sans', sans-serif" font-size="14" font-weight="normal" font-style="normal" fill="#1a1a1a" stroke="#1a1a1a" stroke-width="0.35">-0.4</text>
<text x="292.50" y="522.80" font-family="'Liberation Sans', sans-serif" font-size="14" font-weight="normal" font-style="normal" fill="#1a1a1a" stroke="#1a1a1a" stroke-width="0.35">-0.2</text>
<text x="144.79" y="539.70" font-family="'Liberation Serif', serif" font-size="14.5" font-weight="normal" font-style="italic" fill="#1a1a1a" stroke="#1a1a1a" stroke-width="0.2">E</text>
<text x="152.16" y="541.80" font-family="'Liberation Serif', serif" font-size="9.2" font-weight="normal" font-style="normal" fill="#1a1a1a" stroke="#1a1a1a" stroke-width="0.13142857142857142">M</text>
<text x="165.40" y="539.70" font-family="'Liberation Sans', sans-serif" font-size="13.5" font-weight="normal" font-style="normal" fill="#1a1a1a" stroke="#1a1a1a" stroke-width="0.33749999999999997">/ V (RHE)</text>
<path d="M58.1,289.1 L64.8,295 M58.1,295 L64.8,289.1" stroke="#333" stroke-width="0.9"/>
<g transform="translate(67.63,295.70) scale(0.978,1)"><path transform="translate(0.00,0) scale(0.00645,-0.00645)" d="M740,0 L560,0 L560,1130 C520,1090 460,1050 390,1010 C320,970 260,940 210,920 L210,1090 C300,1130 380,1180 450,1240 C520,1300 570,1360 600,1409 L740,1409 Z" fill="#1a1a1a" stroke="#1a1a1a" stroke-width="46.5"/><text x="7.34" y="0" font-family="'Liberation Sans', sans-serif" font-size="13.2" fill="#1a1a1a" stroke="#1a1a1a" stroke-width="0.32999999999999996">0</text></g>
<text transform="translate(82.84,288.70) scale(1.281,1)" x="0" y="0" font-family="'Liberation Sans', sans-serif" font-size="9.5" font-weight="normal" font-style="normal" fill="#1a1a1a" stroke="#1a1a1a" stroke-width="0.2375">9</text>
<g transform="translate(24,405.5) rotate(-90)" fill="#1a1a1a"><line x1="-32.7" y1="-12.3" x2="-32.7" y2="4.7" stroke="#1a1a1a" stroke-width="1.1"/><line x1="-11" y1="-12.3" x2="-11" y2="4.7" stroke="#1a1a1a" stroke-width="1.1"/><text x="-30.6" y="0" font-family="'Liberation Serif', serif" font-style="italic" font-size="14" stroke="#1a1a1a" stroke-width="0.2">E</text><path d="M-28.2,-11.9 L-22.6,-11.9 M-24.4,-13.4 L-22.3,-11.9 L-24.4,-10.4" stroke="#1a1a1a" stroke-width="0.9" fill="none"/><text x="-22.2" y="3.2" font-family="'Liberation Serif', serif" font-size="9.5" stroke="#1a1a1a" stroke-width="0.13571428571428573">el</text><text x="-6.2" y="0" font-family="'Liberation Sans', sans-serif" font-size="14" stroke="#1a1a1a" stroke-width="0.35">/ V m<tspan font-size="9" dy="-5">-1</tspan></text></g>
<path d="M64.60,480.77 L65.06,480.38 L65.52,480.00 L65.99,479.61 L66.45,479.23 L66.92,478.85 L67.38,478.47 L67.85,478.09 L68.32,477.71 L68.79,477.33 L69.26,476.96 L69.73,476.58 L70.20,476.21 L70.68,475.84 L71.15,475.46 L71.62,475.09 L72.10,474.72 L72.58,474.36 L73.05,473.99 L73.53,473.62 L74.01,473.26 L74.49,472.89 L74.97,472.53 L75.45,472.17 L75.93,471.81 L76.42,471.45 L76.90,471.09 L77.39,470.73 L77.87,470.38 L78.36,470.02 L78.85,469.67 L79.33,469.32 L79.82,468.97 L80.31,468.62 L80.80,468.27 L81.30,467.92 L81.79,467.57 L82.28,467.23 L82.78,466.89 L83.27,466.54 L83.77,466.20 L84.26,465.86 L84.76,465.52 L85.26,465.18 L85.76,464.85 L86.26,464.51 L86.76,464.18 L87.26,463.84 L87.76,463.51 L88.26,463.18 L88.77,462.85 L89.27,462.52 L89.78,462.19 L90.28,461.87 L90.79,461.54 L91.30,461.22 L91.81,460.90 L92.32,460.57 L92.83,460.25 L93.34,459.94 L93.85,459.62 L94.36,459.30 L94.87,458.99 L95.39,458.67 L95.90,458.36 L96.42,458.05 L96.93,457.74 L97.45,457.43 L97.97,457.12 L98.49,456.81 L99.00,456.51 L99.52,456.20 L100.04,455.90 L100.56,455.60 L101.09,455.30 L101.61,455.00 L102.13,454.70 L102.66,454.40 L103.18,454.11 L103.71,453.81 L104.23,453.52 L104.76,453.23 L105.29,452.94 L105.81,452.65 L106.34,452.36 L106.87,452.07 L107.40,451.79 L107.93,451.50 L108.46,451.22 L109.00,450.94 L109.53,450.66 L110.06,450.38 L110.60,450.10 L111.13,449.83 L111.67,449.55 L112.20,449.28 L112.74,449.00 L113.28,448.73 L113.82,448.46 L114.35,448.19 L114.89,447.92 L115.43,447.66 L115.97,447.39 L116.52,447.13 L117.06,446.87 L117.60,446.61 L118.14,446.35 L118.69,446.09 L119.23,445.83 L119.78,445.57 L120.32,445.32 L120.87,445.06 L121.41,444.81 L121.96,444.56 L122.51,444.31 L123.06,444.06 L123.61,443.82 L124.16,443.57 L124.71,443.33 L125.26,443.08 L125.81,442.84 L126.36,442.60 L126.91,442.36 L127.47,442.12 L128.02,441.89 L128.58,441.65 L129.13,441.42 L129.69,441.19 L130.24,440.95 L130.80,440.73 L131.35,440.50 L131.91,440.27 L132.47,440.04 L133.03,439.82 L133.59,439.60 L134.15,439.37 L134.71,439.15 L135.27,438.93 L135.83,438.72 L136.39,438.50 L136.95,438.28 L137.52,438.07 L138.08,437.86 L138.64,437.65 L139.21,437.44 L139.77,437.23 L140.34,437.02 L140.90,436.81 L141.47,436.61 L142.04,436.41 L142.61,436.20 L143.17,436.00 L143.74,435.81 L144.31,435.61 L144.88,435.41 L145.45,435.22 L146.02,435.02 L146.59,434.83 L147.16,434.64 L147.73,434.45 L148.30,434.26 L148.88,434.07 L149.45,433.89 L150.02,433.70 L150.60,433.52 L151.17,433.34 L151.74,433.16 L152.32,432.98 L152.90,432.80 L153.47,432.63 L154.05,432.45 L154.62,432.28 L155.20,432.11 L155.78,431.94 L156.36,431.77 L156.93,431.60 L157.51,431.44 L158.09,431.27 L158.67,431.11 L159.25,430.94 L159.83,430.78 L160.41,430.62 L160.99,430.47 L161.58,430.31 L162.16,430.15 L162.74,430.00 L163.32,429.85 L163.90,429.70 L164.49,429.55 L165.07,429.40 L165.66,429.25 L166.24,429.11 L166.82,428.96 L167.41,428.82 L167.99,428.68 L168.58,428.54 L169.17,428.40 L169.75,428.26 L170.34,428.13 L170.93,427.99 L171.51,427.86 L172.10,427.73 L172.69,427.60 L173.28,427.47 L173.87,427.34 L174.45,427.22 L175.04,427.09 L175.63,426.97 L176.22,426.85 L176.81,426.73 L177.40,426.61 L177.99,426.49 L178.58,426.38 L179.18,426.26 L179.77,426.15 L180.36,426.04 L180.95,425.93 L181.54,425.82 L182.14,425.71 L182.73,425.61 L183.32,425.50 L183.91,425.40 L184.51,425.30 L185.10,425.20 L185.70,425.10 L186.29,425.00 L186.88,424.91 L187.48,424.81 L188.07,424.72 L188.67,424.63 L189.26,424.54 L189.86,424.45 L190.46,424.36 L191.05,424.28 L191.65,424.19 L192.24,424.11 L192.84,424.03 L193.44,423.95 L194.03,423.87 L194.63,423.79 L195.23,423.72 L195.83,423.64 L196.42,423.57 L197.02,423.50 L197.62,423.43 L198.22,423.36 L198.82,423.29 L199.41,423.23 L200.01,423.16 L200.61,423.10 L201.21,423.04 L201.81,422.98 L202.41,422.92 L203.01,422.86 L203.61,422.81 L204.21,422.75 L204.81,422.70 L205.41,422.65 L206.01,422.60 L206.61,422.55 L207.21,422.51 L207.81,422.46 L208.41,422.42 L209.01,422.37 L209.61,422.33 L210.21,422.29 L210.81,422.26 L211.41,422.22 L212.01,422.18 L212.62,422.15 L213.22,422.12 L213.82,422.09 L214.42,422.06 L215.02,422.03 L215.62,422.01 L216.22,421.98 L216.83,421.96 L217.43,421.94 L218.03,421.92 L218.63,421.90 L219.23,421.88 L219.84,421.86 L220.44,421.85 L221.04,421.84 L221.64,421.82 L222.24,421.81 L222.85,421.81 L223.45,421.80 L224.05,421.79 L224.65,421.79 L225.25,421.79 L225.86,421.79 L226.46,421.79 L227.06,421.79 L227.66,421.79 L228.26,421.80 L228.87,421.80 L229.47,421.81 L230.07,421.82 L230.67,421.83 L231.27,421.84 L231.88,421.86 L232.48,421.87 L233.08,421.89 L233.68,421.91 L234.28,421.92 L234.89,421.95 L235.49,421.97 L236.09,421.99 L236.69,422.02 L237.29,422.04 L237.89,422.07 L238.50,422.10 L239.10,422.13 L239.70,422.17 L240.30,422.20 L240.90,422.24 L241.50,422.28 L242.10,422.31 L242.70,422.35 L243.30,422.40 L243.90,422.44 L244.50,422.48 L245.10,422.53 L245.70,422.58 L246.30,422.63 L246.90,422.68 L247.50,422.73 L248.10,422.78 L248.70,422.84 L249.30,422.90 L249.90,422.95 L250.50,423.01 L251.10,423.08 L251.70,423.14 L252.30,423.20 L252.90,423.27 L253.50,423.33 L254.09,423.40 L254.69,423.47 L255.29,423.54 L255.89,423.62 L256.48,423.69 L257.08,423.77 L257.68,423.85 L258.28,423.92 L258.87,424.00 L259.47,424.09 L260.07,424.17 L260.66,424.26 L261.26,424.34 L261.85,424.43 L262.45,424.52 L263.04,424.61 L263.64,424.70 L264.23,424.80 L264.83,424.89 L265.42,424.99 L266.02,425.09 L266.61,425.19 L267.20,425.29 L267.80,425.39 L268.39,425.49 L268.98,425.60 L269.57,425.71 L270.17,425.82 L270.76,425.93 L271.35,426.04 L271.94,426.15 L272.53,426.26 L273.12,426.38 L273.71,426.50 L274.30,426.62 L274.89,426.74 L275.48,426.86 L276.07,426.98 L276.66,427.11 L277.25,427.23 L277.84,427.36 L278.43,427.49 L279.02,427.62 L279.60,427.75 L280.19,427.89 L280.78,428.02 L281.36,428.16 L281.95,428.30 L282.54,428.44 L283.12,428.58 L283.71,428.72 L284.29,428.87 L284.87,429.01 L285.46,429.16 L286.04,429.31 L286.63,429.46 L287.21,429.61 L287.79,429.76 L288.37,429.91 L288.95,430.07 L289.54,430.23 L290.12,430.39 L290.70,430.55 L291.28,430.71 L291.86,430.87 L292.44,431.03 L293.01,431.20 L293.59,431.37 L294.17,431.54 L294.75,431.71 L295.33,431.88 L295.90,432.05 L296.48,432.23 L297.05,432.40 L297.63,432.58 L298.20,432.76 L298.78,432.94 L299.35,433.12 L299.93,433.31 L300.50,433.49 L301.07,433.68 L301.64,433.86 L302.22,434.05 L302.79,434.24 L303.36,434.44 L303.93,434.63 L304.50,434.82 L305.07,435.02 L305.64,435.22" fill="none" stroke="#d7202a" stroke-width="2.2"/>
<line x1="64.3" y1="323.15" x2="305.6" y2="422.2" stroke="#111" stroke-width="2.6" stroke-dasharray="9,9.6"/>
<text x="86.11" y="404.00" font-family="'Liberation Sans', sans-serif" font-size="13.6" font-weight="normal" font-style="normal" fill="#1a1a1a" stroke="#1a1a1a" stroke-width="0.33999999999999997">cation adsorption</text>
<text transform="translate(180.95,344.48) scale(1.227,1)" x="0" y="0" font-family="'Liberation Serif', serif" font-size="14" font-weight="normal" font-style="italic" fill="#1a1a26" stroke="#1a1a26" stroke-width="0.2">θ</text>
<text transform="translate(189.26,347.70) scale(0.964,1)" x="0" y="0" font-family="'Liberation Serif', serif" font-size="8.5" font-weight="normal" font-style="normal" fill="#1a1a26" stroke="#1a1a26" stroke-width="0.12142857142857143">K</text>
<text transform="translate(196.83,345.60) scale(0.938,1)" x="0" y="0" font-family="'Liberation Serif', serif" font-size="10" font-weight="normal" font-style="normal" fill="#1a1a26" stroke="#1a1a26" stroke-width="0.14285714285714288">+</text>
<text transform="translate(206.90,345.52) scale(1.108,1)" x="0" y="0" font-family="'Liberation Serif', serif" font-size="17" font-weight="normal" font-style="normal" fill="#1a1a26" stroke="#1a1a26" stroke-width="0.2">=</text>
<text transform="translate(221.39,344.48) scale(1.017,1)" x="0" y="0" font-family="'Liberation Serif', serif" font-size="14" font-weight="normal" font-style="normal" fill="#1a1a26" stroke="#1a1a26" stroke-width="0.2">0</text>
<line x1="207.4" y1="380.6" x2="203.6" y2="357.5" stroke="#1c1c30" stroke-width="1.5"/>
<path d="M202.9,352.3 L207.2,358.9 L200.6,359.1 Z" fill="#1c1c30"/>
<defs><radialGradient id="gK" cx="50%" cy="50%" r="50%"><stop offset="0" stop-color="#d3161e"/><stop offset="0.42" stop-color="#d3161e"/><stop offset="1" stop-color="#de7c80"/></radialGradient></defs>
<circle cx="276.4" cy="319" r="17.3" fill="url(#gK)"/>
<text transform="translate(270.73,324.10) scale(0.922,1)" x="0" y="0" font-family="'Liberation Sans', sans-serif" font-size="14" font-weight="bold" font-style="normal" fill="#fff" stroke="#fff" stroke-width="0.35">K</text>
<path d="M281.09999999999997,318.1 h4.6 M283.4,315.8 v4.6" stroke="#fff" stroke-width="1.5"/>
<path d="M429.4,374.1 L670.3,452.7 L670.20,453.74 L669.63,453.55 L669.06,453.37 L668.48,453.18 L667.91,453.00 L667.33,452.82 L666.76,452.63 L666.19,452.45 L665.61,452.27 L665.04,452.08 L664.46,451.90 L663.89,451.71 L663.32,451.53 L662.74,451.35 L662.17,451.16 L661.59,450.98 L661.02,450.79 L660.45,450.61 L659.87,450.43 L659.30,450.24 L658.73,450.06 L658.15,449.87 L657.58,449.69 L657.00,449.50 L656.43,449.32 L655.86,449.13 L655.28,448.95 L654.71,448.77 L654.14,448.58 L653.56,448.40 L652.99,448.21 L652.41,448.03 L651.84,447.84 L651.27,447.66 L650.69,447.47 L650.12,447.29 L649.55,447.10 L648.97,446.92 L648.40,446.73 L647.82,446.55 L647.25,446.36 L646.68,446.18 L646.10,446.00 L645.53,445.81 L644.96,445.63 L644.38,445.44 L643.81,445.26 L643.24,445.07 L642.66,444.89 L642.09,444.70 L641.51,444.52 L640.94,444.33 L640.37,444.15 L639.79,443.96 L639.22,443.78 L638.65,443.60 L638.07,443.41 L637.50,443.23 L636.92,443.04 L636.35,442.86 L635.78,442.67 L635.20,442.49 L634.63,442.30 L634.06,442.12 L633.48,441.94 L632.91,441.75 L632.33,441.57 L631.76,441.38 L631.19,441.20 L630.61,441.02 L630.04,440.83 L629.46,440.65 L628.89,440.46 L628.32,440.28 L627.74,440.10 L627.17,439.91 L626.59,439.73 L626.02,439.55 L625.45,439.36 L624.87,439.18 L624.30,439.00 L623.72,438.81 L623.15,438.63 L622.58,438.45 L622.00,438.26 L621.43,438.08 L620.85,437.90 L620.28,437.72 L619.70,437.53 L619.13,437.35 L618.56,437.17 L617.98,436.99 L617.41,436.80 L616.83,436.62 L616.26,436.44 L615.68,436.26 L615.11,436.07 L614.53,435.89 L613.96,435.71 L613.38,435.53 L612.81,435.35 L612.23,435.17 L611.66,434.99 L611.09,434.80 L610.51,434.62 L609.94,434.44 L609.36,434.26 L608.79,434.08 L608.21,433.90 L607.64,433.72 L607.06,433.54 L606.49,433.36 L605.91,433.18 L605.34,433.00 L604.76,432.82 L604.18,432.64 L603.61,432.46 L603.03,432.28 L602.46,432.10 L601.88,431.92 L601.31,431.74 L600.73,431.56 L600.16,431.38 L599.58,431.21 L599.01,431.03 L598.43,430.85 L597.85,430.67 L597.28,430.49 L596.70,430.31 L596.13,430.14 L595.55,429.96 L594.97,429.78 L594.40,429.60 L593.82,429.43 L593.25,429.25 L592.67,429.07 L592.09,428.90 L591.52,428.72 L590.94,428.54 L590.37,428.37 L589.79,428.19 L589.21,428.02 L588.64,427.84 L588.06,427.67 L587.48,427.49 L586.91,427.32 L586.33,427.14 L585.75,426.97 L585.18,426.79 L584.60,426.62 L584.02,426.44 L583.44,426.27 L582.87,426.10 L582.29,425.92 L581.71,425.75 L581.14,425.58 L580.56,425.40 L579.98,425.23 L579.40,425.06 L578.83,424.89 L578.25,424.71 L577.67,424.54 L577.09,424.37 L576.51,424.20 L575.94,424.03 L575.36,423.86 L574.78,423.69 L574.20,423.52 L573.62,423.35 L573.05,423.18 L572.47,423.01 L571.89,422.84 L571.31,422.67 L570.73,422.50 L570.15,422.33 L569.58,422.16 L569.00,421.99 L568.42,421.82 L567.84,421.66 L567.26,421.49 L566.68,421.32 L566.10,421.15 L565.52,420.99 L564.94,420.82 L564.37,420.65 L563.79,420.49 L563.21,420.32 L562.63,420.16 L562.05,419.99 L561.47,419.83 L560.89,419.66 L560.31,419.50 L559.73,419.33 L559.15,419.17 L558.57,419.00 L557.99,418.84 L557.41,418.68 L556.83,418.51 L556.25,418.35 L555.67,418.19 L555.09,418.03 L554.51,417.87 L553.93,417.70 L553.35,417.54 L552.76,417.38 L552.18,417.22 L551.60,417.06 L551.02,416.90 L550.44,416.74 L549.86,416.58 L549.28,416.42 L548.70,416.26 L548.12,416.11 L547.53,415.95 L546.95,415.79 L546.37,415.63 L545.79,415.47 L545.21,415.32 L544.62,415.16 L544.04,415.00 L543.46,414.85 L542.88,414.69 L542.30,414.54 L541.71,414.38 L541.13,414.23 L540.55,414.07 L539.97,413.92 L539.38,413.76 L538.80,413.61 L538.22,413.46 L537.63,413.31 L537.05,413.15 L536.47,413.00 L535.88,412.85 L535.30,412.70 L534.72,412.55 L534.13,412.40 L533.55,412.25 L532.97,412.10 L532.38,411.95 L531.80,411.80 L531.22,411.65 L530.63,411.50 L530.05,411.35 L529.46,411.20 L528.88,411.06 L528.29,410.91 L527.71,410.76 L527.12,410.62 L526.54,410.47 L525.96,410.32 L525.37,410.18 L524.79,410.03 L524.20,409.89 L523.61,409.75 L523.03,409.60 L522.44,409.46 L521.86,409.32 L521.27,409.17 L520.69,409.03 L520.10,408.89 L519.52,408.75 L518.93,408.61 L518.34,408.47 L517.76,408.33 L517.17,408.19 L516.58,408.05 L516.00,407.91 L515.41,407.77 L514.83,407.63 L514.24,407.50 L513.65,407.36 L513.06,407.22 L512.48,407.09 L511.89,406.95 L511.30,406.81 L510.72,406.68 L510.13,406.54 L509.54,406.41 L508.95,406.28 L508.37,406.14 L507.78,406.01 L507.19,405.88 L506.60,405.74 L506.01,405.61 L505.43,405.48 L504.84,405.35 L504.25,405.22 L503.66,405.09 L503.07,404.96 L502.48,404.83 L501.89,404.70 L501.31,404.58 L500.72,404.45 L500.13,404.32 L499.54,404.19 L498.95,404.07 L498.36,403.94 L497.77,403.82 L497.18,403.69 L496.59,403.57 L496.00,403.44 L495.41,403.32 L494.82,403.20 L494.23,403.08 L493.64,402.95 L493.05,402.83 L492.46,402.71 L491.87,402.59 L491.28,402.47 L490.69,402.35 L490.10,402.23 L489.51,402.11 L488.91,402.00 L488.32,401.88 L487.73,401.76 L487.14,401.64 L486.55,401.53 L485.96,401.41 L485.37,401.30 L484.77,401.18 L484.18,401.07 L483.59,400.96 L483.00,400.84 L482.41,400.73 L481.81,400.62 L481.22,400.51 L480.63,400.40 L480.04,400.29 L479.45,400.18 L478.85,400.07 L478.26,399.96 L477.67,399.85 L477.07,399.74 L476.48,399.63 L475.89,399.53 L475.29,399.42 L474.70,399.32 L474.11,399.21 L473.51,399.11 L472.92,399.00 L472.33,398.90 L471.73,398.80 L471.14,398.69 L470.54,398.59 L469.95,398.49 L469.36,398.39 L468.76,398.29 L468.17,398.19 L467.57,398.09 L466.98,397.99 L466.38,397.90 L465.79,397.80 L465.19,397.70 L464.60,397.61 L464.00,397.51 L463.41,397.42 L462.81,397.32 L462.22,397.23 L461.62,397.13 L461.03,397.04 L460.43,396.95 L459.84,396.86 L459.24,396.77 L458.64,396.68 L458.05,396.59 L457.45,396.50 L456.86,396.41 L456.26,396.32 L455.66,396.23 L455.07,396.15 L454.47,396.06 L453.87,395.98 L453.28,395.89 L452.68,395.81 L452.08,395.72 L451.49,395.64 L450.89,395.56 L450.29,395.48 L449.70,395.40 L449.10,395.32 L448.50,395.24 L447.90,395.16 L447.31,395.08 L446.71,395.00 L446.11,394.92 L445.51,394.84 L444.92,394.77 L444.32,394.69 L443.72,394.62 L443.12,394.54 L442.52,394.47 L441.92,394.40 L441.33,394.33 L440.73,394.25 L440.13,394.18 L439.53,394.11 L438.93,394.04 L438.33,393.97 L437.73,393.90 L437.14,393.84 L436.54,393.77 L435.94,393.70 L435.34,393.64 L434.74,393.57 L434.14,393.51 L433.54,393.44 L432.94,393.38 L432.34,393.32 L431.74,393.26 L431.14,393.20 L430.54,393.14 L429.94,393.08 L429.34,393.02 Z" fill="#e3e3e3"/>
<rect x="421.3" y="299.8" width="249.2" height="202.2" fill="none" stroke="#5a5a5a" stroke-width="1"/>
<line x1="429.4" y1="502" x2="429.4" y2="499.4" stroke="#6a6a6a" stroke-width="1"/>
<line x1="429.4" y1="299.8" x2="429.4" y2="302.40000000000003" stroke="#6a6a6a" stroke-width="1"/>
<line x1="509.76" y1="502" x2="509.76" y2="499.4" stroke="#6a6a6a" stroke-width="1"/>
<line x1="509.76" y1="299.8" x2="509.76" y2="302.40000000000003" stroke="#6a6a6a" stroke-width="1"/>
<line x1="590.12" y1="502" x2="590.12" y2="499.4" stroke="#6a6a6a" stroke-width="1"/>
<line x1="590.12" y1="299.8" x2="590.12" y2="302.40000000000003" stroke="#6a6a6a" stroke-width="1"/>
<line x1="670.48" y1="502" x2="670.48" y2="499.4" stroke="#6a6a6a" stroke-width="1"/>
<line x1="670.48" y1="299.8" x2="670.48" y2="302.40000000000003" stroke="#6a6a6a" stroke-width="1"/>
<line x1="421.3" y1="502.0" x2="423.90000000000003" y2="502.0" stroke="#6a6a6a" stroke-width="1"/>
<line x1="670.5" y1="502.0" x2="667.9" y2="502.0" stroke="#6a6a6a" stroke-width="1"/>
<line x1="421.3" y1="461.56" x2="423.90000000000003" y2="461.56" stroke="#6a6a6a" stroke-width="1"/>
<line x1="670.5" y1="461.56" x2="667.9" y2="461.56" stroke="#6a6a6a" stroke-width="1"/>
<line x1="421.3" y1="421.12" x2="423.90000000000003" y2="421.12" stroke="#6a6a6a" stroke-width="1"/>
<line x1="670.5" y1="421.12" x2="667.9" y2="421.12" stroke="#6a6a6a" stroke-width="1"/>
<line x1="421.3" y1="380.68000000000006" x2="423.90000000000003" y2="380.68000000000006" stroke="#6a6a6a" stroke-width="1"/>
<line x1="670.5" y1="380.68000000000006" x2="667.9" y2="380.68000000000006" stroke="#6a6a6a" stroke-width="1"/>
<line x1="421.3" y1="340.24" x2="423.90000000000003" y2="340.24" stroke="#6a6a6a" stroke-width="1"/>
<line x1="670.5" y1="340.24" x2="667.9" y2="340.24" stroke="#6a6a6a" stroke-width="1"/>
<line x1="421.3" y1="299.8" x2="423.90000000000003" y2="299.8" stroke="#6a6a6a" stroke-width="1"/>
<line x1="670.5" y1="299.8" x2="667.9" y2="299.8" stroke="#6a6a6a" stroke-width="1"/>
<text x="396.22" y="507.10" font-family="'Liberation Sans', sans-serif" font-size="14" font-weight="normal" font-style="normal" fill="#1a1a1a" stroke="#1a1a1a" stroke-width="0.35">0.8</text>
<g transform="translate(407.98,466.66)"><path transform="translate(0.00,0) scale(0.00684,-0.00684)" d="M740,0 L560,0 L560,1130 C520,1090 460,1050 390,1010 C320,970 260,940 210,920 L210,1090 C300,1130 380,1180 450,1240 C520,1300 570,1360 600,1409 L740,1409 Z" fill="#1a1a1a" stroke="#1a1a1a" stroke-width="43.9"/></g>
<g transform="translate(396.35,426.22)"><path transform="translate(0.00,0) scale(0.00684,-0.00684)" d="M740,0 L560,0 L560,1130 C520,1090 460,1050 390,1010 C320,970 260,940 210,920 L210,1090 C300,1130 380,1180 450,1240 C520,1300 570,1360 600,1409 L740,1409 Z" fill="#1a1a1a" stroke="#1a1a1a" stroke-width="43.9"/><text x="7.79" y="0" font-family="'Liberation Sans', sans-serif" font-size="14" fill="#1a1a1a" stroke="#1a1a1a" stroke-width="0.35">.2</text></g>
<g transform="translate(396.04,385.78)"><path transform="translate(0.00,0) scale(0.00684,-0.00684)" d="M740,0 L560,0 L560,1130 C520,1090 460,1050 390,1010 C320,970 260,940 210,920 L210,1090 C300,1130 380,1180 450,1240 C520,1300 570,1360 600,1409 L740,1409 Z" fill="#1a1a1a" stroke="#1a1a1a" stroke-width="43.9"/><text x="7.79" y="0" font-family="'Liberation Sans', sans-serif" font-size="14" fill="#1a1a1a" stroke="#1a1a1a" stroke-width="0.35">.4</text></g>
<g transform="translate(396.22,345.34)"><path transform="translate(0.00,0) scale(0.00684,-0.00684)" d="M740,0 L560,0 L560,1130 C520,1090 460,1050 390,1010 C320,970 260,940 210,920 L210,1090 C300,1130 380,1180 450,1240 C520,1300 570,1360 600,1409 L740,1409 Z" fill="#1a1a1a" stroke="#1a1a1a" stroke-width="43.9"/><text x="7.79" y="0" font-family="'Liberation Sans', sans-serif" font-size="14" fill="#1a1a1a" stroke="#1a1a1a" stroke-width="0.35">.6</text></g>
<g transform="translate(396.22,304.90)"><path transform="translate(0.00,0) scale(0.00684,-0.00684)" d="M740,0 L560,0 L560,1130 C520,1090 460,1050 390,1010 C320,970 260,940 210,920 L210,1090 C300,1130 380,1180 450,1240 C520,1300 570,1360 600,1409 L740,1409 Z" fill="#1a1a1a" stroke="#1a1a1a" stroke-width="43.9"/><text x="7.79" y="0" font-family="'Liberation Sans', sans-serif" font-size="14" fill="#1a1a1a" stroke="#1a1a1a" stroke-width="0.35">.8</text></g>
<text x="416.34" y="521.10" font-family="'Liberation Sans', sans-serif" font-size="14" font-weight="normal" font-style="normal" fill="#1a1a1a" stroke="#1a1a1a" stroke-width="0.35">-0.8</text>
<text x="496.70" y="521.10" font-family="'Liberation Sans', sans-serif" font-size="14" font-weight="normal" font-style="normal" fill="#1a1a1a" stroke="#1a1a1a" stroke-width="0.35">-0.6</text>
<text x="576.97" y="521.10" font-family="'Liberation Sans', sans-serif" font-size="14" font-weight="normal" font-style="normal" fill="#1a1a1a" stroke="#1a1a1a" stroke-width="0.35">-0.4</text>
<text x="657.48" y="521.10" font-family="'Liberation Sans', sans-serif" font-size="14" font-weight="normal" font-style="normal" fill="#1a1a1a" stroke="#1a1a1a" stroke-width="0.35">-0.2</text>
<text x="505.99" y="540.00" font-family="'Liberation Serif', serif" font-size="14.5" font-weight="normal" font-style="italic" fill="#1a1a1a" stroke="#1a1a1a" stroke-width="0.2">E</text>
<text x="513.36" y="542.10" font-family="'Liberation Serif', serif" font-size="9.2" font-weight="normal" font-style="normal" fill="#1a1a1a" stroke="#1a1a1a" stroke-width="0.13142857142857142">M</text>
<text x="526.60" y="540.00" font-family="'Liberation Sans', sans-serif" font-size="13.5" font-weight="normal" font-style="normal" fill="#1a1a1a" stroke="#1a1a1a" stroke-width="0.33749999999999997">/ V (RHE)</text>
<path d="M423.7,290.6 L430.7,296.5 M423.7,296.5 L430.7,290.6" stroke="#333" stroke-width="0.9"/>
<g transform="translate(433.49,297.20) scale(1.016,1)"><path transform="translate(0.00,0) scale(0.00645,-0.00645)" d="M740,0 L560,0 L560,1130 C520,1090 460,1050 390,1010 C320,970 260,940 210,920 L210,1090 C300,1130 380,1180 450,1240 C520,1300 570,1360 600,1409 L740,1409 Z" fill="#1a1a1a" stroke="#1a1a1a" stroke-width="46.5"/><text x="7.34" y="0" font-family="'Liberation Sans', sans-serif" font-size="13.2" fill="#1a1a1a" stroke="#1a1a1a" stroke-width="0.32999999999999996">0</text></g>
<text transform="translate(449.07,289.60) scale(1.213,1)" x="0" y="0" font-family="'Liberation Sans', sans-serif" font-size="9.5" font-weight="normal" font-style="normal" fill="#1a1a1a" stroke="#1a1a1a" stroke-width="0.2375">9</text>
<g transform="translate(388.2,403.3) rotate(-90)" fill="#1a1a1a"><line x1="-32.7" y1="-12.3" x2="-32.7" y2="4.7" stroke="#1a1a1a" stroke-width="1.1"/><line x1="-11" y1="-12.3" x2="-11" y2="4.7" stroke="#1a1a1a" stroke-width="1.1"/><text x="-30.6" y="0" font-family="'Liberation Serif', serif" font-style="italic" font-size="14" stroke="#1a1a1a" stroke-width="0.2">E</text><path d="M-28.2,-11.9 L-22.6,-11.9 M-24.4,-13.4 L-22.3,-11.9 L-24.4,-10.4" stroke="#1a1a1a" stroke-width="0.9" fill="none"/><text x="-22.2" y="3.2" font-family="'Liberation Serif', serif" font-size="9.5" stroke="#1a1a1a" stroke-width="0.13571428571428573">el</text><text x="-6.2" y="0" font-family="'Liberation Sans', sans-serif" font-size="14" stroke="#1a1a1a" stroke-width="0.35">/ V m<tspan font-size="9" dy="-5">-1</tspan></text></g>
<path d="M429.34,393.02 L429.94,393.08 L430.54,393.14 L431.14,393.20 L431.74,393.26 L432.34,393.32 L432.94,393.38 L433.54,393.44 L434.14,393.51 L434.74,393.57 L435.34,393.64 L435.94,393.70 L436.54,393.77 L437.14,393.84 L437.73,393.90 L438.33,393.97 L438.93,394.04 L439.53,394.11 L440.13,394.18 L440.73,394.25 L441.33,394.33 L441.92,394.40 L442.52,394.47 L443.12,394.54 L443.72,394.62 L444.32,394.69 L444.92,394.77 L445.51,394.84 L446.11,394.92 L446.71,395.00 L447.31,395.08 L447.90,395.16 L448.50,395.24 L449.10,395.32 L449.70,395.40 L450.29,395.48 L450.89,395.56 L451.49,395.64 L452.08,395.72 L452.68,395.81 L453.28,395.89 L453.87,395.98 L454.47,396.06 L455.07,396.15 L455.66,396.23 L456.26,396.32 L456.86,396.41 L457.45,396.50 L458.05,396.59 L458.64,396.68 L459.24,396.77 L459.84,396.86 L460.43,396.95 L461.03,397.04 L461.62,397.13 L462.22,397.23 L462.81,397.32 L463.41,397.42 L464.00,397.51 L464.60,397.61 L465.19,397.70 L465.79,397.80 L466.38,397.90 L466.98,397.99 L467.57,398.09 L468.17,398.19 L468.76,398.29 L469.36,398.39 L469.95,398.49 L470.54,398.59 L471.14,398.69 L471.73,398.80 L472.33,398.90 L472.92,399.00 L473.51,399.11 L474.11,399.21 L474.70,399.32 L475.29,399.42 L475.89,399.53 L476.48,399.63 L477.07,399.74 L477.67,399.85 L478.26,399.96 L478.85,400.07 L479.45,400.18 L480.04,400.29 L480.63,400.40 L481.22,400.51 L481.81,400.62 L482.41,400.73 L483.00,400.84 L483.59,400.96 L484.18,401.07 L484.77,401.18 L485.37,401.30 L485.96,401.41 L486.55,401.53 L487.14,401.64 L487.73,401.76 L488.32,401.88 L488.91,402.00 L489.51,402.11 L490.10,402.23 L490.69,402.35 L491.28,402.47 L491.87,402.59 L492.46,402.71 L493.05,402.83 L493.64,402.95 L494.23,403.08 L494.82,403.20 L495.41,403.32 L496.00,403.44 L496.59,403.57 L497.18,403.69 L497.77,403.82 L498.36,403.94 L498.95,404.07 L499.54,404.19 L500.13,404.32 L500.72,404.45 L501.31,404.58 L501.89,404.70 L502.48,404.83 L503.07,404.96 L503.66,405.09 L504.25,405.22 L504.84,405.35 L505.43,405.48 L506.01,405.61 L506.60,405.74 L507.19,405.88 L507.78,406.01 L508.37,406.14 L508.95,406.28 L509.54,406.41 L510.13,406.54 L510.72,406.68 L511.30,406.81 L511.89,406.95 L512.48,407.09 L513.06,407.22 L513.65,407.36 L514.24,407.50 L514.83,407.63 L515.41,407.77 L516.00,407.91 L516.58,408.05 L517.17,408.19 L517.76,408.33 L518.34,408.47 L518.93,408.61 L519.52,408.75 L520.10,408.89 L520.69,409.03 L521.27,409.17 L521.86,409.32 L522.44,409.46 L523.03,409.60 L523.61,409.75 L524.20,409.89 L524.79,410.03 L525.37,410.18 L525.96,410.32 L526.54,410.47 L527.12,410.62 L527.71,410.76 L528.29,410.91 L528.88,411.06 L529.46,411.20 L530.05,411.35 L530.63,411.50 L531.22,411.65 L531.80,411.80 L532.38,411.95 L532.97,412.10 L533.55,412.25 L534.13,412.40 L534.72,412.55 L535.30,412.70 L535.88,412.85 L536.47,413.00 L537.05,413.15 L537.63,413.31 L538.22,413.46 L538.80,413.61 L539.38,413.76 L539.97,413.92 L540.55,414.07 L541.13,414.23 L541.71,414.38 L542.30,414.54 L542.88,414.69 L543.46,414.85 L544.04,415.00 L544.62,415.16 L545.21,415.32 L545.79,415.47 L546.37,415.63 L546.95,415.79 L547.53,415.95 L548.12,416.11 L548.70,416.26 L549.28,416.42 L549.86,416.58 L550.44,416.74 L551.02,416.90 L551.60,417.06 L552.18,417.22 L552.76,417.38 L553.35,417.54 L553.93,417.70 L554.51,417.87 L555.09,418.03 L555.67,418.19 L556.25,418.35 L556.83,418.51 L557.41,418.68 L557.99,418.84 L558.57,419.00 L559.15,419.17 L559.73,419.33 L560.31,419.50 L560.89,419.66 L561.47,419.83 L562.05,419.99 L562.63,420.16 L563.21,420.32 L563.79,420.49 L564.37,420.65 L564.94,420.82 L565.52,420.99 L566.10,421.15 L566.68,421.32 L567.26,421.49 L567.84,421.66 L568.42,421.82 L569.00,421.99 L569.58,422.16 L570.15,422.33 L570.73,422.50 L571.31,422.67 L571.89,422.84 L572.47,423.01 L573.05,423.18 L573.62,423.35 L574.20,423.52 L574.78,423.69 L575.36,423.86 L575.94,424.03 L576.51,424.20 L577.09,424.37 L577.67,424.54 L578.25,424.71 L578.83,424.89 L579.40,425.06 L579.98,425.23 L580.56,425.40 L581.14,425.58 L581.71,425.75 L582.29,425.92 L582.87,426.10 L583.44,426.27 L584.02,426.44 L584.60,426.62 L585.18,426.79 L585.75,426.97 L586.33,427.14 L586.91,427.32 L587.48,427.49 L588.06,427.67 L588.64,427.84 L589.21,428.02 L589.79,428.19 L590.37,428.37 L590.94,428.54 L591.52,428.72 L592.09,428.90 L592.67,429.07 L593.25,429.25 L593.82,429.43 L594.40,429.60 L594.97,429.78 L595.55,429.96 L596.13,430.14 L596.70,430.31 L597.28,430.49 L597.85,430.67 L598.43,430.85 L599.01,431.03 L599.58,431.21 L600.16,431.38 L600.73,431.56 L601.31,431.74 L601.88,431.92 L602.46,432.10 L603.03,432.28 L603.61,432.46 L604.18,432.64 L604.76,432.82 L605.34,433.00 L605.91,433.18 L606.49,433.36 L607.06,433.54 L607.64,433.72 L608.21,433.90 L608.79,434.08 L609.36,434.26 L609.94,434.44 L610.51,434.62 L611.09,434.80 L611.66,434.99 L612.23,435.17 L612.81,435.35 L613.38,435.53 L613.96,435.71 L614.53,435.89 L615.11,436.07 L615.68,436.26 L616.26,436.44 L616.83,436.62 L617.41,436.80 L617.98,436.99 L618.56,437.17 L619.13,437.35 L619.70,437.53 L620.28,437.72 L620.85,437.90 L621.43,438.08 L622.00,438.26 L622.58,438.45 L623.15,438.63 L623.72,438.81 L624.30,439.00 L624.87,439.18 L625.45,439.36 L626.02,439.55 L626.59,439.73 L627.17,439.91 L627.74,440.10 L628.32,440.28 L628.89,440.46 L629.46,440.65 L630.04,440.83 L630.61,441.02 L631.19,441.20 L631.76,441.38 L632.33,441.57 L632.91,441.75 L633.48,441.94 L634.06,442.12 L634.63,442.30 L635.20,442.49 L635.78,442.67 L636.35,442.86 L636.92,443.04 L637.50,443.23 L638.07,443.41 L638.65,443.60 L639.22,443.78 L639.79,443.96 L640.37,444.15 L640.94,444.33 L641.51,444.52 L642.09,444.70 L642.66,444.89 L643.24,445.07 L643.81,445.26 L644.38,445.44 L644.96,445.63 L645.53,445.81 L646.10,446.00 L646.68,446.18 L647.25,446.36 L647.82,446.55 L648.40,446.73 L648.97,446.92 L649.55,447.10 L650.12,447.29 L650.69,447.47 L651.27,447.66 L651.84,447.84 L652.41,448.03 L652.99,448.21 L653.56,448.40 L654.14,448.58 L654.71,448.77 L655.28,448.95 L655.86,449.13 L656.43,449.32 L657.00,449.50 L657.58,449.69 L658.15,449.87 L658.73,450.06 L659.30,450.24 L659.87,450.43 L660.45,450.61 L661.02,450.79 L661.59,450.98 L662.17,451.16 L662.74,451.35 L663.32,451.53 L663.89,451.71 L664.46,451.90 L665.04,452.08 L665.61,452.27 L666.19,452.45 L666.76,452.63 L667.33,452.82 L667.91,453.00 L668.48,453.18 L669.06,453.37 L669.63,453.55 L670.20,453.74" fill="none" stroke="#1f2a80" stroke-width="2.2"/>
<line x1="429.4" y1="374.1" x2="670.3" y2="452.7" stroke="#111" stroke-width="2.6" stroke-dasharray="9.2,9.2"/>
<text transform="translate(511.83,371.68) scale(1.261,1)" x="0" y="0" font-family="'Liberation Serif', serif" font-size="14" font-weight="normal" font-style="italic" fill="#1a1a26" stroke="#1a1a26" stroke-width="0.2">θ</text>
<text transform="translate(520.05,375.00) scale(0.982,1)" x="0" y="0" font-family="'Liberation Serif', serif" font-size="8.5" font-weight="normal" font-style="normal" fill="#1a1a26" stroke="#1a1a26" stroke-width="0.12142857142857143">Li</text>
<text transform="translate(529.45,373.50) scale(1.109,1)" x="0" y="0" font-family="'Liberation Serif', serif" font-size="10" font-weight="normal" font-style="normal" fill="#1a1a26" stroke="#1a1a26" stroke-width="0.14285714285714288">+</text>
<text transform="translate(540.05,373.42) scale(1.045,1)" x="0" y="0" font-family="'Liberation Serif', serif" font-size="17" font-weight="normal" font-style="normal" fill="#1a1a26" stroke="#1a1a26" stroke-width="0.2">=</text>
<text transform="translate(554.38,371.68) scale(1.033,1)" x="0" y="0" font-family="'Liberation Serif', serif" font-size="14" font-weight="normal" font-style="normal" fill="#1a1a26" stroke="#1a1a26" stroke-width="0.2">0</text>
<line x1="538.3" y1="407.1" x2="535.2" y2="385" stroke="#1c1c30" stroke-width="1.5"/>
<path d="M534.8,379.8 L538.6,386.3 L531.6,386.6 Z" fill="#1c1c30"/>
<defs><radialGradient id="gL" cx="50%" cy="50%" r="50%"><stop offset="0" stop-color="#1c2778"/><stop offset="0.42" stop-color="#1c2778"/><stop offset="1" stop-color="#7b82b6"/></radialGradient></defs>
<circle cx="639.1" cy="319.7" r="17.4" fill="url(#gL)"/>
<text transform="translate(631.96,325.90) scale(1.000,1)" x="0" y="0" font-family="'Liberation Sans', sans-serif" font-size="14" font-weight="bold" font-style="normal" fill="#fff" stroke="#fff" stroke-width="0.35">Li</text>
<path d="M645.25,319.7 h3.8 M647.15,317.8 v3.8" stroke="#fff" stroke-width="1.4"/>
<rect x="57" y="581.3" width="248.60000000000002" height="206.20000000000005" fill="none" stroke="#5a5a5a" stroke-width="1"/>
<line x1="64.7" y1="787.5" x2="64.7" y2="784.9" stroke="#6a6a6a" stroke-width="1"/>
<line x1="64.7" y1="581.3" x2="64.7" y2="583.9" stroke="#6a6a6a" stroke-width="1"/>
<line x1="145.10000000000002" y1="787.5" x2="145.10000000000002" y2="784.9" stroke="#6a6a6a" stroke-width="1"/>
<line x1="145.10000000000002" y1="581.3" x2="145.10000000000002" y2="583.9" stroke="#6a6a6a" stroke-width="1"/>
<line x1="225.5" y1="787.5" x2="225.5" y2="784.9" stroke="#6a6a6a" stroke-width="1"/>
<line x1="225.5" y1="581.3" x2="225.5" y2="583.9" stroke="#6a6a6a" stroke-width="1"/>
<line x1="305.90000000000003" y1="787.5" x2="305.90000000000003" y2="784.9" stroke="#6a6a6a" stroke-width="1"/>
<line x1="305.90000000000003" y1="581.3" x2="305.90000000000003" y2="583.9" stroke="#6a6a6a" stroke-width="1"/>
<line x1="57" y1="787.5" x2="59.6" y2="787.5" stroke="#6a6a6a" stroke-width="1"/>
<line x1="305.6" y1="787.5" x2="303.0" y2="787.5" stroke="#6a6a6a" stroke-width="1"/>
<line x1="57" y1="746.26" x2="59.6" y2="746.26" stroke="#6a6a6a" stroke-width="1"/>
<line x1="305.6" y1="746.26" x2="303.0" y2="746.26" stroke="#6a6a6a" stroke-width="1"/>
<line x1="57" y1="705.02" x2="59.6" y2="705.02" stroke="#6a6a6a" stroke-width="1"/>
<line x1="305.6" y1="705.02" x2="303.0" y2="705.02" stroke="#6a6a6a" stroke-width="1"/>
<line x1="57" y1="663.78" x2="59.6" y2="663.78" stroke="#6a6a6a" stroke-width="1"/>
<line x1="305.6" y1="663.78" x2="303.0" y2="663.78" stroke="#6a6a6a" stroke-width="1"/>
<line x1="57" y1="622.54" x2="59.6" y2="622.54" stroke="#6a6a6a" stroke-width="1"/>
<line x1="305.6" y1="622.54" x2="303.0" y2="622.54" stroke="#6a6a6a" stroke-width="1"/>
<line x1="57" y1="581.3" x2="59.6" y2="581.3" stroke="#6a6a6a" stroke-width="1"/>
<line x1="305.6" y1="581.3" x2="303.0" y2="581.3" stroke="#6a6a6a" stroke-width="1"/>
<text x="42.75" y="792.60" font-family="'Liberation Sans', sans-serif" font-size="14" font-weight="normal" font-style="normal" fill="#1a1a1a" stroke="#1a1a1a" stroke-width="0.35">0</text>
<g transform="translate(27.19,751.36)"><path transform="translate(0.00,0) scale(0.00684,-0.00684)" d="M740,0 L560,0 L560,1130 C520,1090 460,1050 390,1010 C320,970 260,940 210,920 L210,1090 C300,1130 380,1180 450,1240 C520,1300 570,1360 600,1409 L740,1409 Z" fill="#1a1a1a" stroke="#1a1a1a" stroke-width="43.9"/><text x="7.79" y="0" font-family="'Liberation Sans', sans-serif" font-size="14" fill="#1a1a1a" stroke="#1a1a1a" stroke-width="0.35">00</text></g>
<text x="27.19" y="710.12" font-family="'Liberation Sans', sans-serif" font-size="14" font-weight="normal" font-style="normal" fill="#1a1a1a" stroke="#1a1a1a" stroke-width="0.35">200</text>
<text x="27.19" y="668.88" font-family="'Liberation Sans', sans-serif" font-size="14" font-weight="normal" font-style="normal" fill="#1a1a1a" stroke="#1a1a1a" stroke-width="0.35">300</text>
<text x="27.19" y="627.64" font-family="'Liberation Sans', sans-serif" font-size="14" font-weight="normal" font-style="normal" fill="#1a1a1a" stroke="#1a1a1a" stroke-width="0.35">400</text>
<text x="27.19" y="586.40" font-family="'Liberation Sans', sans-serif" font-size="14" font-weight="normal" font-style="normal" fill="#1a1a1a" stroke="#1a1a1a" stroke-width="0.35">500</text>
<text x="52.04" y="805.80" font-family="'Liberation Sans', sans-serif" font-size="14" font-weight="normal" font-style="normal" fill="#1a1a1a" stroke="#1a1a1a" stroke-width="0.35">-0.8</text>
<text x="132.44" y="805.80" font-family="'Liberation Sans', sans-serif" font-size="14" font-weight="normal" font-style="normal" fill="#1a1a1a" stroke="#1a1a1a" stroke-width="0.35">-0.6</text>
<text x="212.75" y="805.80" font-family="'Liberation Sans', sans-serif" font-size="14" font-weight="normal" font-style="normal" fill="#1a1a1a" stroke="#1a1a1a" stroke-width="0.35">-0.4</text>
<text x="293.30" y="805.80" font-family="'Liberation Sans', sans-serif" font-size="14" font-weight="normal" font-style="normal" fill="#1a1a1a" stroke="#1a1a1a" stroke-width="0.35">-0.2</text>
<text x="150.39" y="821.70" font-family="'Liberation Serif', serif" font-size="14.5" font-weight="normal" font-style="italic" fill="#1a1a1a" stroke="#1a1a1a" stroke-width="0.2">E</text>
<text x="157.76" y="823.80" font-family="'Liberation Serif', serif" font-size="9.2" font-weight="normal" font-style="normal" fill="#1a1a1a" stroke="#1a1a1a" stroke-width="0.13142857142857142">M</text>
<text x="171.00" y="821.70" font-family="'Liberation Sans', sans-serif" font-size="13.5" font-weight="normal" font-style="normal" fill="#1a1a1a" stroke="#1a1a1a" stroke-width="0.33749999999999997">/ V (RHE)</text>
<text transform="translate(21.9,684.3) rotate(-90)" font-family="'Liberation Sans', sans-serif" font-size="13.7" text-anchor="middle" fill="#1a1a1a" stroke="#1a1a1a" stroke-width="0.34249999999999997">Tafel slope / mV dec<tspan font-size="9.5" dy="-4.8">-1</tspan></text>
<path d="M92.6,727.8 L92.6,662.4 L88.4,662.4 L97.1,654.3 L105.8,662.4 L101.4,662.4 L101.4,727.8 Z" fill="none" stroke="#e0474f" stroke-width="1.1"/>
<path d="M69.10,723.67 L75.16,724.06 L81.22,724.44 L87.28,724.82 L93.34,725.20 L99.39,725.57 L105.45,725.94 L111.51,726.31 L117.57,726.68 L123.63,727.04 L129.69,727.40 L135.75,727.76 L141.81,728.11 L147.87,728.46 L153.93,728.81 L159.98,729.16 L166.04,729.50 L172.10,729.85 L178.16,730.18 L184.22,730.52 L190.28,730.85 L196.34,731.18 L202.40,731.51 L208.46,731.83 L214.52,732.15 L220.57,732.47 L226.63,732.79 L232.69,733.10 L238.75,733.41 L244.81,733.72 L250.87,734.02 L256.93,734.33 L262.99,734.63 L269.05,734.92 L275.11,735.22 L281.16,735.51 L287.22,735.80 L293.28,736.08 L299.34,736.36 L305.40,736.64" fill="none" stroke="#1f2a80" stroke-width="2.2" stroke-dasharray="8.8,9.5"/>
<path d="M69.10,729.24 L75.16,729.60 L81.22,729.96 L87.28,730.31 L93.34,730.67 L99.39,731.02 L105.45,731.36 L111.51,731.71 L117.57,732.05 L123.63,732.39 L129.69,732.73 L135.75,733.06 L141.81,733.39 L147.87,733.72 L153.93,734.04 L159.98,734.36 L166.04,734.68 L172.10,735.00 L178.16,735.31 L184.22,735.62 L190.28,735.93 L196.34,736.23 L202.40,736.54 L208.46,736.83 L214.52,737.13 L220.57,737.42 L226.63,737.71 L232.69,738.00 L238.75,738.29 L244.81,738.57 L250.87,738.85 L256.93,739.13 L262.99,739.40 L269.05,739.67 L275.11,739.94 L281.16,740.20 L287.22,740.46 L293.28,740.72 L299.34,740.98 L305.40,741.23" fill="none" stroke="#d7202a" stroke-width="2.2" stroke-dasharray="8.8,9.5"/>
<path d="M69.10,722.37 L75.16,722.76 L81.22,723.14 L87.28,723.52 L93.34,723.90 L99.39,724.27 L105.45,724.64 L111.51,725.01 L117.57,725.38 L123.63,725.74 L129.69,726.10 L135.75,726.46 L141.81,726.81 L147.87,727.16 L153.93,727.51 L159.98,727.86 L166.04,728.20 L172.10,728.55 L178.16,728.88 L184.22,729.22 L190.28,729.55 L196.34,729.88 L202.40,730.21 L208.46,730.53 L214.52,730.85 L220.57,731.17 L226.63,731.49 L232.69,731.80 L238.75,732.11 L244.81,732.42 L250.87,732.72 L256.93,733.03 L262.99,733.33 L269.05,733.62 L275.11,733.92 L281.16,734.21 L287.22,734.50 L293.28,734.78 L299.34,735.06 L305.40,735.34" fill="none" stroke="#1f2a80" stroke-width="2.2"/>
<path d="M70.20,595.25 L70.38,595.83 L70.56,596.40 L70.74,596.98 L70.92,597.55 L71.10,598.12 L71.29,598.70 L71.48,599.27 L71.67,599.84 L71.86,600.41 L72.05,600.98 L72.25,601.55 L72.45,602.12 L72.65,602.69 L72.85,603.25 L73.05,603.82 L73.26,604.39 L73.47,604.95 L73.68,605.52 L73.89,606.08 L74.10,606.64 L74.32,607.20 L74.54,607.77 L74.75,608.33 L74.98,608.89 L75.20,609.45 L75.43,610.00 L75.65,610.56 L75.88,611.12 L76.11,611.67 L76.35,612.23 L76.58,612.78 L76.82,613.34 L77.06,613.89 L77.30,614.44 L77.54,614.99 L77.79,615.54 L78.03,616.09 L78.28,616.64 L78.53,617.19 L78.79,617.73 L79.04,618.28 L79.30,618.83 L79.56,619.37 L79.82,619.91 L80.08,620.45 L80.34,621.00 L80.61,621.54 L80.88,622.07 L81.15,622.61 L81.42,623.15 L81.69,623.69 L81.97,624.22 L82.25,624.76 L82.53,625.29 L82.81,625.82 L83.09,626.35 L83.38,626.88 L83.66,627.41 L83.95,627.94 L84.24,628.47 L84.54,628.99 L84.83,629.52 L85.13,630.04 L85.43,630.57 L85.73,631.09 L86.03,631.61 L86.33,632.13 L86.64,632.65 L86.95,633.16 L87.26,633.68 L87.57,634.20 L87.88,634.71 L88.20,635.22 L88.52,635.74 L88.83,636.25 L89.15,636.76 L89.48,637.26 L89.80,637.77 L90.13,638.28 L90.46,638.78 L90.79,639.29 L91.12,639.79 L91.45,640.29 L91.79,640.79 L92.12,641.29 L92.46,641.79 L92.80,642.29 L93.14,642.78 L93.49,643.28 L93.83,643.77 L94.18,644.26 L94.53,644.75 L94.88,645.24 L95.23,645.73 L95.59,646.22 L95.94,646.70 L96.30,647.19 L96.66,647.67 L97.02,648.15 L97.39,648.63 L97.75,649.11 L98.12,649.59 L98.48,650.06 L98.85,650.54 L99.23,651.01 L99.60,651.49 L99.97,651.96 L100.35,652.43 L100.73,652.90 L101.11,653.36 L101.49,653.83 L101.87,654.30 L102.25,654.76 L102.64,655.22 L103.03,655.68 L103.42,656.14 L103.81,656.60 L104.20,657.06 L104.59,657.51 L104.99,657.97 L105.39,658.42 L105.79,658.87 L106.19,659.32 L106.59,659.77 L106.99,660.22 L107.39,660.66 L107.80,661.11 L108.21,661.55 L108.62,661.99 L109.03,662.43 L109.44,662.87 L109.85,663.31 L110.27,663.75 L110.69,664.18 L111.10,664.61 L111.52,665.05 L111.94,665.48 L112.37,665.91 L112.79,666.33 L113.22,666.76 L113.64,667.19 L114.07,667.61 L114.50,668.03 L114.93,668.45 L115.36,668.87 L115.80,669.29 L116.23,669.70 L116.67,670.12 L117.11,670.53 L117.55,670.95 L117.99,671.36 L118.43,671.77 L118.87,672.17 L119.32,672.58 L119.76,672.98 L120.21,673.39 L120.66,673.79 L121.11,674.19 L121.56,674.59 L122.01,674.99 L122.46,675.38 L122.92,675.78 L123.37,676.17 L123.83,676.56 L124.29,676.95 L124.75,677.34 L125.21,677.73 L125.67,678.12 L126.13,678.50 L126.60,678.88 L127.07,679.27 L127.53,679.65 L128.00,680.03 L128.47,680.40 L128.94,680.78 L129.41,681.15 L129.88,681.53 L130.36,681.90 L130.83,682.27 L131.31,682.64 L131.79,683.00 L132.27,683.37 L132.74,683.73 L133.23,684.10 L133.71,684.46 L134.19,684.82 L134.67,685.18 L135.16,685.53 L135.65,685.89 L136.13,686.24 L136.62,686.59 L137.11,686.95 L137.60,687.30 L138.09,687.64 L138.58,687.99 L139.08,688.34 L139.57,688.68 L140.07,689.02 L140.56,689.36 L141.06,689.70 L141.56,690.04 L142.06,690.38 L142.56,690.71 L143.06,691.05 L143.56,691.38 L144.07,691.71 L144.57,692.04 L145.08,692.37 L145.58,692.69 L146.09,693.02 L146.60,693.34 L147.10,693.66 L147.61,693.98 L148.13,694.30 L148.64,694.62 L149.15,694.94 L149.66,695.25 L150.18,695.56 L150.69,695.88 L151.21,696.19 L151.72,696.50 L152.24,696.80 L152.76,697.11 L153.28,697.41 L153.80,697.72 L154.32,698.02 L154.84,698.32 L155.37,698.62 L155.89,698.92 L156.41,699.21 L156.94,699.51 L157.47,699.80 L157.99,700.09 L158.52,700.38 L159.05,700.67 L159.58,700.96 L160.11,701.25 L160.64,701.53 L161.17,701.81 L161.70,702.10 L162.23,702.38 L162.77,702.66 L163.30,702.93 L163.84,703.21 L164.37,703.48 L164.91,703.76 L165.45,704.03 L165.98,704.30 L166.52,704.57 L167.06,704.84 L167.60,705.10 L168.14,705.37 L168.68,705.63 L169.23,705.90 L169.77,706.16 L170.31,706.42 L170.86,706.67 L171.40,706.93 L171.95,707.19 L172.49,707.44 L173.04,707.69 L173.59,707.95 L174.13,708.20 L174.68,708.44 L175.23,708.69 L175.78,708.94 L176.33,709.18 L176.88,709.43 L177.43,709.67 L177.98,709.91 L178.54,710.15 L179.09,710.39 L179.64,710.62 L180.20,710.86 L180.75,711.09 L181.31,711.33 L181.86,711.56 L182.42,711.79 L182.98,712.02 L183.53,712.24 L184.09,712.47 L184.65,712.70 L185.21,712.92 L185.77,713.14 L186.33,713.36 L186.89,713.58 L187.45,713.80 L188.01,714.02 L188.57,714.24 L189.14,714.45 L189.70,714.67 L190.26,714.88 L190.83,715.09 L191.39,715.30 L191.96,715.51 L192.52,715.72 L193.09,715.92 L193.65,716.13 L194.22,716.33 L194.79,716.53 L195.36,716.73 L195.92,716.93 L196.49,717.13 L197.06,717.33 L197.63,717.53 L198.20,717.72 L198.77,717.92 L199.34,718.11 L199.91,718.30 L200.48,718.49 L201.05,718.68 L201.63,718.87 L202.20,719.06 L202.77,719.24 L203.34,719.43 L203.92,719.61 L204.49,719.79 L205.07,719.98 L205.64,720.16 L206.22,720.34 L206.79,720.51 L207.37,720.69 L207.94,720.87 L208.52,721.04 L209.10,721.21 L209.67,721.38 L210.25,721.56 L210.83,721.73 L211.41,721.89 L211.98,722.06 L212.56,722.23 L213.14,722.39 L213.72,722.56 L214.30,722.72 L214.88,722.88 L215.46,723.04 L216.04,723.20 L216.62,723.36 L217.20,723.52 L217.78,723.68 L218.37,723.83 L218.95,723.99 L219.53,724.14 L220.11,724.29 L220.70,724.45 L221.28,724.60 L221.86,724.74 L222.45,724.89 L223.03,725.04 L223.61,725.19 L224.20,725.33 L224.78,725.47 L225.37,725.62 L225.95,725.76 L226.54,725.90 L227.13,726.04 L227.71,726.18 L228.30,726.32 L228.88,726.45 L229.47,726.59 L230.06,726.72 L230.65,726.86 L231.23,726.99 L231.82,727.12 L232.41,727.25 L233.00,727.38 L233.58,727.51 L234.17,727.64 L234.76,727.76 L235.35,727.89 L235.94,728.01 L236.53,728.14 L237.12,728.26 L237.71,728.38 L238.30,728.50 L238.89,728.62 L239.48,728.74 L240.07,728.86 L240.66,728.98 L241.25,729.09 L241.84,729.21 L242.43,729.32 L243.02,729.43 L243.62,729.55 L244.21,729.66 L244.80,729.77 L245.39,729.88 L245.98,729.99 L246.58,730.09 L247.17,730.20 L247.76,730.30 L248.36,730.41 L248.95,730.51 L249.54,730.62 L250.14,730.72 L250.73,730.82 L251.32,730.92 L251.92,731.02 L252.51,731.12 L253.11,731.21 L253.70,731.31 L254.30,731.40 L254.89,731.50 L255.48,731.59 L256.08,731.69 L256.67,731.78 L257.27,731.87 L257.87,731.96 L258.46,732.05 L259.06,732.14 L259.65,732.22 L260.25,732.31 L260.84,732.40 L261.44,732.48 L262.04,732.56 L262.63,732.65 L263.23,732.73 L263.83,732.81 L264.42,732.89 L265.02,732.97 L265.62,733.05 L266.21,733.13 L266.81,733.20 L267.41,733.28 L268.01,733.36 L268.60,733.43 L269.20,733.50 L269.80,733.58 L270.40,733.65 L271.00,733.72 L271.59,733.79 L272.19,733.86 L272.79,733.93 L273.39,734.00 L273.99,734.06 L274.59,734.13 L275.18,734.19 L275.78,734.26 L276.38,734.32 L276.98,734.38 L277.58,734.45 L278.18,734.51 L278.78,734.57 L279.38,734.63 L279.98,734.69 L280.58,734.74 L281.18,734.80 L281.77,734.86 L282.37,734.91 L282.97,734.97 L283.57,735.02 L284.17,735.08 L284.77,735.13 L285.37,735.18 L285.97,735.23 L286.57,735.28 L287.17,735.33 L287.77,735.38 L288.37,735.43 L288.97,735.47 L289.58,735.52 L290.18,735.56 L290.78,735.61 L291.38,735.65 L291.98,735.69 L292.58,735.74 L293.18,735.78 L293.78,735.82 L294.38,735.86 L294.98,735.90 L295.58,735.94 L296.18,735.97 L296.78,736.01 L297.39,736.05 L297.99,736.08 L298.59,736.12 L299.19,736.15 L299.79,736.18 L300.39,736.22 L300.99,736.25 L301.59,736.28 L302.20,736.31 L302.80,736.34 L303.40,736.37 L304.00,736.39 L304.60,736.42 L305.20,736.45" fill="none" stroke="#d7202a" stroke-width="2.2"/>
<line x1="210" y1="591.5" x2="241.7" y2="591.5" stroke="#d7202a" stroke-width="2.2"/>
<line x1="210" y1="611.2" x2="241.7" y2="611.2" stroke="#1f2a80" stroke-width="2.2"/>
<line x1="210" y1="631.7" x2="241.7" y2="631.7" stroke="#d7202a" stroke-width="2.2" stroke-dasharray="7,5"/>
<line x1="210" y1="654.4" x2="241.7" y2="654.4" stroke="#1f2a80" stroke-width="2.2" stroke-dasharray="7,5"/>
<text transform="translate(252.60,598.00) scale(0.800,1)" x="0" y="0" font-family="'Liberation Serif', serif" font-size="14" font-weight="normal" font-style="normal" fill="#1a1a26" stroke="#1a1a26" stroke-width="0.2">K</text>
<text transform="translate(260.16,594.40) scale(1.471,1)" x="0" y="0" font-family="'Liberation Serif', serif" font-size="10" font-weight="normal" font-style="normal" fill="#1a1a26" stroke="#1a1a26" stroke-width="0.14285714285714288">+</text>
<text transform="translate(253.11,617.60) scale(0.771,1)" x="0" y="0" font-family="'Liberation Serif', serif" font-size="14" font-weight="normal" font-style="normal" fill="#1a1a26" stroke="#1a1a26" stroke-width="0.2">Li</text>
<text transform="translate(263.06,614.00) scale(1.471,1)" x="0" y="0" font-family="'Liberation Serif', serif" font-size="10" font-weight="normal" font-style="normal" fill="#1a1a26" stroke="#1a1a26" stroke-width="0.14285714285714288">+</text>
<text transform="translate(245.84,637.08) scale(1.244,1)" x="0" y="0" font-family="'Liberation Serif', serif" font-size="14" font-weight="normal" font-style="italic" fill="#1a1a26" stroke="#1a1a26" stroke-width="0.2">θ</text>
<text transform="translate(254.15,640.80) scale(0.981,1)" x="0" y="0" font-family="'Liberation Serif', serif" font-size="8.5" font-weight="normal" font-style="normal" fill="#1a1a26" stroke="#1a1a26" stroke-width="0.12142857142857143">K</text>
<text transform="translate(261.91,638.20) scale(0.981,1)" x="0" y="0" font-family="'Liberation Serif', serif" font-size="10" font-weight="normal" font-style="normal" fill="#1a1a26" stroke="#1a1a26" stroke-width="0.14285714285714288">+</text>
<text transform="translate(272.11,639.62) scale(1.096,1)" x="0" y="0" font-family="'Liberation Serif', serif" font-size="17" font-weight="normal" font-style="normal" fill="#1a1a26" stroke="#1a1a26" stroke-width="0.2">=</text>
<text transform="translate(286.34,637.08) scale(1.117,1)" x="0" y="0" font-family="'Liberation Serif', serif" font-size="14" font-weight="normal" font-style="normal" fill="#1a1a26" stroke="#1a1a26" stroke-width="0.2">0</text>
<text transform="translate(246.04,659.98) scale(1.244,1)" x="0" y="0" font-family="'Liberation Serif', serif" font-size="14" font-weight="normal" font-style="italic" fill="#1a1a26" stroke="#1a1a26" stroke-width="0.2">θ</text>
<text transform="translate(254.13,662.90) scale(1.080,1)" x="0" y="0" font-family="'Liberation Serif', serif" font-size="8.5" font-weight="normal" font-style="normal" fill="#1a1a26" stroke="#1a1a26" stroke-width="0.12142857142857143">Li</text>
<text transform="translate(264.77,661.10) scale(0.853,1)" x="0" y="0" font-family="'Liberation Serif', serif" font-size="10" font-weight="normal" font-style="normal" fill="#1a1a26" stroke="#1a1a26" stroke-width="0.14285714285714288">+</text>
<text transform="translate(274.65,662.52) scale(1.045,1)" x="0" y="0" font-family="'Liberation Serif', serif" font-size="17" font-weight="normal" font-style="normal" fill="#1a1a26" stroke="#1a1a26" stroke-width="0.2">=</text>
<text transform="translate(288.84,659.98) scale(1.117,1)" x="0" y="0" font-family="'Liberation Serif', serif" font-size="14" font-weight="normal" font-style="normal" fill="#1a1a26" stroke="#1a1a26" stroke-width="0.2">0</text>
<rect x="394.5" y="569" width="291" height="248.5" fill="#f7f7f7"/>
<text transform="translate(403.82,594.10) scale(0.944,1)" x="0" y="0" font-family="'Liberation Sans', sans-serif" font-size="16.8" font-weight="bold" font-style="normal" fill="#d71920" stroke="#d71920" stroke-width="0.35">K</text>
<path d="M416,586.05 h6.1 M419.05,583.1 v5.9" stroke="#d71920" stroke-width="1.9"/>
<text transform="translate(402.12,699.60) scale(0.961,1)" x="0" y="0" font-family="'Liberation Sans', sans-serif" font-size="16.5" font-weight="bold" font-style="normal" fill="#243080" stroke="#243080" stroke-width="0.35">Li</text>
<path d="M416.9,691.8 h5.3 M419.55,689 v5.6" stroke="#243080" stroke-width="1.8"/>
<line x1="429.6" y1="607.5" x2="652" y2="607.5" stroke="#5e5e5e" stroke-width="1.1" stroke-dasharray="2.5,1.45"/>
<line x1="429.1" y1="634.3" x2="654.3" y2="634.3" stroke="#8a8a8a" stroke-width="1.1" stroke-dasharray="2.5,1.45"/>
<line x1="429.4" y1="724.5" x2="653" y2="724.5" stroke="#5e5e5e" stroke-width="1.1" stroke-dasharray="2.5,1.45"/>
<line x1="429.4" y1="756.6" x2="651.6" y2="756.6" stroke="#8a8a8a" stroke-width="1.1" stroke-dasharray="2.5,1.45"/>
<rect x="423.9" y="645.9" width="248.8" height="11.2" fill="#7b7b7b"/>
<rect x="423.9" y="767.1" width="248.7" height="11.1" fill="#7b7b7b"/>
<text x="654.84" y="613.30" font-family="'Liberation Sans', sans-serif" font-size="12.5" font-weight="normal" font-style="normal" fill="#1a1a1a" stroke="#1a1a1a" stroke-width="0.3125">OHP</text>
<text x="656.90" y="639.90" font-family="'Liberation Sans', sans-serif" font-size="12.8" font-weight="normal" font-style="normal" fill="#1a1a1a" stroke="#1a1a1a" stroke-width="0.32">IHP</text>
<text x="653.94" y="730.60" font-family="'Liberation Sans', sans-serif" font-size="12.5" font-weight="normal" font-style="normal" fill="#1a1a1a" stroke="#1a1a1a" stroke-width="0.3125">OHP</text>
<text x="656.80" y="762.50" font-family="'Liberation Sans', sans-serif" font-size="12.8" font-weight="normal" font-style="normal" fill="#1a1a1a" stroke="#1a1a1a" stroke-width="0.32">IHP</text>
<defs><radialGradient id="iK" cx="50%" cy="50%" r="50%"><stop offset="0" stop-color="#d3141c"/><stop offset="0.5" stop-color="#d3161e"/><stop offset="1" stop-color="#e27f84"/></radialGradient><radialGradient id="iL" cx="50%" cy="50%" r="50%"><stop offset="0" stop-color="#1a257a"/><stop offset="0.5" stop-color="#1e2a7c"/><stop offset="1" stop-color="#7f86b8"/></radialGradient></defs>
<circle cx="474.8" cy="608.9" r="22.4" fill="none" stroke="#d71920" stroke-width="1.8" stroke-dasharray="4.6,2.6"/>
<circle cx="580.8" cy="607.5" r="22.4" fill="none" stroke="#d71920" stroke-width="1.8" stroke-dasharray="4.6,2.6"/>
<circle cx="627.8" cy="607.5" r="22.4" fill="none" stroke="#d71920" stroke-width="1.8" stroke-dasharray="4.6,2.6"/>
<circle cx="474.8" cy="610" r="9.8" fill="url(#iK)"/>
<path d="M471.5,611.2 h7.6 M475.3,607.4 v7.6" stroke="#fff" stroke-width="1.9"/>
<circle cx="457.3" cy="633.4" r="9.3" fill="url(#iK)"/>
<path d="M454.0,634.6 h7.6 M457.8,630.8 v7.6" stroke="#fff" stroke-width="1.9"/>
<circle cx="495.9" cy="634" r="9.3" fill="url(#iK)"/>
<path d="M492.59999999999997,635.2 h7.6 M496.4,631.4 v7.6" stroke="#fff" stroke-width="1.9"/>
<circle cx="581.5" cy="607.6" r="9.5" fill="url(#iK)"/>
<path d="M578.2,608.8000000000001 h7.6 M582.0,605.0 v7.6" stroke="#fff" stroke-width="1.9"/>
<circle cx="627.4" cy="607.8" r="9.5" fill="url(#iK)"/>
<path d="M624.1,609.0 h7.6 M627.9,605.1999999999999 v7.6" stroke="#fff" stroke-width="1.9"/>
<circle cx="461.1" cy="723" r="29.2" fill="none" stroke="#243080" stroke-width="1.8" stroke-dasharray="4.6,2.6"/>
<circle cx="519.9" cy="721.8" r="29.2" fill="none" stroke="#243080" stroke-width="1.8" stroke-dasharray="4.6,2.6"/>
<circle cx="616.6" cy="724.7" r="29.2" fill="none" stroke="#243080" stroke-width="1.8" stroke-dasharray="4.6,2.6"/>
<circle cx="461.7" cy="724.6" r="9.7" fill="url(#iL)"/>
<path d="M458.4,725.8000000000001 h7.6 M462.2,722.0 v7.6" stroke="#fff" stroke-width="1.9"/>
<circle cx="520.2" cy="723.8" r="9.7" fill="url(#iL)"/>
<path d="M516.9000000000001,725.0 h7.6 M520.7,721.1999999999999 v7.6" stroke="#fff" stroke-width="1.9"/>
<circle cx="616.9" cy="726" r="9.7" fill="url(#iL)"/>
<path d="M613.6,727.2 h7.6 M617.4,723.4 v7.6" stroke="#fff" stroke-width="1.9"/>
<line x1="626.7" y1="791.1" x2="465" y2="791.1" stroke="#111" stroke-width="1.4"/>
<path d="M459.7,791.1 L467,787.9 L467,794.3 Z" fill="#111"/>
<text x="483.89" y="807.70" font-family="'Liberation Sans', sans-serif" font-size="12.5" font-weight="normal" font-style="normal" fill="#1a1a1a" stroke="#1a1a1a" stroke-width="0.3125">potential more negative</text></svg>
</body></html>
